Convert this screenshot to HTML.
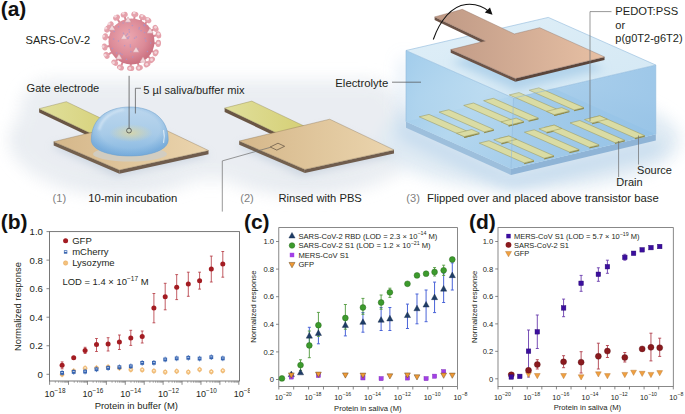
<!DOCTYPE html>
<html><head><meta charset="utf-8"><title>Figure</title>
<style>
html,body{margin:0;padding:0;background:#fff;width:685px;height:414px;overflow:hidden;}
svg{display:block;font-family:"Liberation Sans", sans-serif;}
</style></head><body>
<svg width="685" height="414" viewBox="0 0 685 414">
<defs>
<filter id="blur8" x="-50%" y="-50%" width="200%" height="200%"><feGaussianBlur stdDeviation="8"/></filter>
<filter id="blur4" x="-50%" y="-50%" width="200%" height="200%"><feGaussianBlur stdDeviation="4"/></filter>
<filter id="blur2" x="-50%" y="-50%" width="200%" height="200%"><feGaussianBlur stdDeviation="2"/></filter>
<filter id="blur1" x="-50%" y="-50%" width="200%" height="200%"><feGaussianBlur stdDeviation="1"/></filter>
<linearGradient id="padG" x1="0" y1="0" x2="1" y2="0">
 <stop offset="0" stop-color="#d5b78a"/><stop offset="1" stop-color="#ebd5ae"/></linearGradient>
<linearGradient id="stripG" x1="0" y1="0" x2="1" y2="0">
 <stop offset="0" stop-color="#e0df9c"/><stop offset="1" stop-color="#d5cf74"/></linearGradient>
<linearGradient id="cuG" x1="0" y1="0" x2="1" y2="0">
 <stop offset="0" stop-color="#bf9985"/><stop offset="1" stop-color="#e7c0a4"/></linearGradient>
<radialGradient id="virG" cx="0.42" cy="0.4" r="0.6">
 <stop offset="0" stop-color="#eca8b1"/><stop offset="0.65" stop-color="#dc8b98"/><stop offset="1" stop-color="#cb7181"/></radialGradient>
<linearGradient id="dropG" x1="0" y1="0" x2="0" y2="1">
 <stop offset="0" stop-color="#bcd7ee"/><stop offset="0.55" stop-color="#a8cbe8"/><stop offset="1" stop-color="#84b6e1"/></linearGradient>
<radialGradient id="dropY" cx="0.5" cy="0.5" r="0.5">
 <stop offset="0" stop-color="#d8d6a8" stop-opacity="0.9"/><stop offset="1" stop-color="#d8d6a8" stop-opacity="0"/></radialGradient>
<radialGradient id="dropE" cx="0.5" cy="0.45" r="0.55">
 <stop offset="0.7" stop-color="#7aaedc" stop-opacity="0"/><stop offset="1" stop-color="#6fa6d8" stop-opacity="0.7"/></radialGradient>
<linearGradient id="boxL" x1="0" y1="0" x2="1" y2="1">
 <stop offset="0" stop-color="#92c4e8"/><stop offset="0.55" stop-color="#b3d7ef"/><stop offset="1" stop-color="#a2cbea"/></linearGradient>
<linearGradient id="boxR" x1="0" y1="0" x2="1" y2="0">
 <stop offset="0" stop-color="#a2cbea"/><stop offset="1" stop-color="#8dbee5"/></linearGradient>
<linearGradient id="boxT" x1="0" y1="0" x2="1" y2="1">
 <stop offset="0" stop-color="#dcedf7"/><stop offset="1" stop-color="#d0e6f3"/></linearGradient>
<linearGradient id="bgfade" x1="0" y1="0" x2="0" y2="1">
 <stop offset="0" stop-color="#ffffff"/><stop offset="1" stop-color="#e6ebf0"/></linearGradient>
</defs>
<rect x="0" y="0" width="685" height="414" fill="#ffffff"/>
<g filter="url(#blur8)" opacity="0.9">
<ellipse cx="120" cy="140" rx="110" ry="55" fill="#e3e8ee"/>
<ellipse cx="305" cy="140" rx="115" ry="55" fill="#e3e8ee"/>
<rect x="20" y="80" width="380" height="100" rx="30" fill="#e8ecf1"/>
<ellipse cx="530" cy="140" rx="150" ry="50" fill="#dce8f2"/>
</g>
<g filter="url(#blur4)" opacity="0.55">
<polygon points="50.50,146.60 116.50,176.60 210.50,155.60 144.50,126.60" fill="#b4c3d3" stroke="none" stroke-width="0" />
</g>
<polygon points="39.10,108.70 93.90,134.80 93.90,138.60 39.10,112.50" fill="#6a5644" stroke="none" stroke-width="0" />
<polygon points="39.10,108.70 66.30,101.70 121.70,128.10 93.90,134.80" fill="url(#stripG)" stroke="#8d8450" stroke-width="0.4" />
<polygon points="53.70,141.70 119.40,170.00 119.40,173.70 53.70,145.40" fill="#73604e" stroke="none" stroke-width="0" />
<polygon points="119.40,170.00 208.50,150.50 208.50,154.20 119.40,173.70" fill="#6f5c4d" stroke="none" stroke-width="0" />
<polygon points="53.70,141.70 144.20,119.80 208.50,150.50 119.40,170.00" fill="url(#padG)" stroke="#8c7454" stroke-width="0.4" />
<g filter="url(#blur4)" opacity="0.55">
<polygon points="236.00,146.00 302.00,176.00 396.00,155.00 330.00,126.00" fill="#b4c3d3" stroke="none" stroke-width="0" />
</g>
<polygon points="224.60,108.10 279.40,134.20 279.40,138.00 224.60,111.90" fill="#6a5644" stroke="none" stroke-width="0" />
<polygon points="224.60,108.10 251.80,101.10 307.20,127.50 279.40,134.20" fill="url(#stripG)" stroke="#8d8450" stroke-width="0.4" />
<polygon points="239.20,141.10 304.90,169.40 304.90,173.10 239.20,144.80" fill="#73604e" stroke="none" stroke-width="0" />
<polygon points="304.90,169.40 394.00,149.90 394.00,153.60 304.90,173.10" fill="#6f5c4d" stroke="none" stroke-width="0" />
<polygon points="239.20,141.10 329.70,119.20 394.00,149.90 304.90,169.40" fill="url(#padG)" stroke="#8c7454" stroke-width="0.4" />
<polygon points="270.20,147.00 278.00,143.20 284.60,146.30 276.80,150.10" fill="none" stroke="#4a3c30" stroke-width="0.6" />
<polyline points="270.2,147.4 222.3,160.9 222.3,211.6" fill="none" stroke="#6d6d6d" stroke-width="0.7"/>
<ellipse cx="130" cy="154" rx="37" ry="7.5" fill="#cfcdc4" opacity="0.9"/>
<path d="M91.3,140 C91.3,118 108,107 129.7,107 C151.5,107 168.2,118 168.2,140 C168.2,150 150,156 129.7,156 C109,156 91.3,150 91.3,140 Z" fill="url(#dropG)"/>
<path d="M91.3,140 C91.3,118 108,107 129.7,107 C151.5,107 168.2,118 168.2,140 C168.2,150 150,156 129.7,156 C109,156 91.3,150 91.3,140 Z" fill="url(#dropE)"/>
<ellipse cx="131" cy="133" rx="22" ry="9" fill="url(#dropY)"/>
<path d="M91.3,140 C91.3,118 108,107 129.7,107 C151.5,107 168.2,118 168.2,140 C168.2,150 150,156 129.7,156 C109,156 91.3,150 91.3,140 Z" fill="none" stroke="#6d9ecb" stroke-width="0.5"/>
<path d="M99,130 C102,118 112,111 124,109.5" fill="none" stroke="#e6f1fa" stroke-width="2.2" opacity="0.6" filter="url(#blur1)"/>
<path d="M163.5,143 C164.5,139 164.5,134 163.5,130" fill="none" stroke="#e6f1fa" stroke-width="1.2" opacity="0.8"/>
<line x1="151.45" y1="42.94" x2="158.33" y2="43.43" stroke="#d88b97" stroke-width="2.0" />
<line x1="149.61" y1="49.99" x2="155.72" y2="52.85" stroke="#d88b97" stroke-width="2.0" />
<line x1="146.35" y1="54.90" x2="151.79" y2="59.81" stroke="#d88b97" stroke-width="2.0" />
<line x1="142.78" y1="58.02" x2="147.07" y2="64.31" stroke="#d88b97" stroke-width="2.0" />
<line x1="137.18" y1="60.68" x2="139.31" y2="67.83" stroke="#d88b97" stroke-width="2.0" />
<line x1="130.88" y1="61.49" x2="130.67" y2="68.27" stroke="#d88b97" stroke-width="2.0" />
<line x1="123.67" y1="59.90" x2="120.44" y2="67.50" stroke="#d88b97" stroke-width="2.0" />
<line x1="119.11" y1="57.20" x2="114.74" y2="62.73" stroke="#d88b97" stroke-width="2.0" />
<line x1="114.02" y1="51.23" x2="106.60" y2="55.36" stroke="#d88b97" stroke-width="2.0" />
<line x1="111.91" y1="45.51" x2="104.66" y2="46.99" stroke="#d88b97" stroke-width="2.0" />
<line x1="111.81" y1="37.99" x2="105.22" y2="36.82" stroke="#d88b97" stroke-width="2.0" />
<line x1="113.68" y1="32.42" x2="107.29" y2="29.15" stroke="#d88b97" stroke-width="2.0" />
<line x1="115.84" y1="29.06" x2="110.49" y2="24.81" stroke="#d88b97" stroke-width="2.0" />
<line x1="120.89" y1="24.54" x2="116.53" y2="17.56" stroke="#d88b97" stroke-width="2.0" />
<line x1="126.26" y1="22.20" x2="124.22" y2="14.71" stroke="#d88b97" stroke-width="2.0" />
<line x1="133.94" y1="21.65" x2="134.83" y2="14.36" stroke="#d88b97" stroke-width="2.0" />
<line x1="139.69" y1="23.25" x2="142.44" y2="17.12" stroke="#d88b97" stroke-width="2.0" />
<line x1="143.73" y1="25.67" x2="148.02" y2="20.13" stroke="#d88b97" stroke-width="2.0" />
<line x1="149.06" y1="31.92" x2="155.60" y2="28.35" stroke="#d88b97" stroke-width="2.0" />
<line x1="150.91" y1="36.67" x2="158.45" y2="34.79" stroke="#d88b97" stroke-width="2.0" />
<ellipse cx="158.33" cy="43.43" rx="3.6" ry="2.7" fill="#e5a1ab" transform="rotate(94.1 158.33 43.43)"/>
<circle cx="158.33" cy="42.89" r="1.4" fill="#f3d4d9"/>
<ellipse cx="155.72" cy="52.85" rx="3.6" ry="2.7" fill="#e5a1ab" transform="rotate(115.1 155.72 52.85)"/>
<circle cx="155.64" cy="52.59" r="1.4" fill="#f3d4d9"/>
<ellipse cx="151.79" cy="59.81" rx="3.6" ry="2.7" fill="#e5a1ab" transform="rotate(132.1 151.79 59.81)"/>
<circle cx="151.59" cy="59.74" r="1.4" fill="#f3d4d9"/>
<ellipse cx="147.07" cy="64.31" rx="3.6" ry="2.7" fill="#e5a1ab" transform="rotate(145.7 147.07 64.31)"/>
<circle cx="146.72" cy="64.37" r="1.4" fill="#f3d4d9"/>
<ellipse cx="139.31" cy="67.83" rx="3.6" ry="2.7" fill="#e5a1ab" transform="rotate(163.5 139.31 67.83)"/>
<circle cx="138.73" cy="68.00" r="1.4" fill="#f3d4d9"/>
<ellipse cx="130.67" cy="68.27" rx="3.6" ry="2.7" fill="#e5a1ab" transform="rotate(181.8 130.67 68.27)"/>
<circle cx="129.84" cy="68.47" r="1.4" fill="#f3d4d9"/>
<ellipse cx="120.44" cy="67.50" rx="3.6" ry="2.7" fill="#e5a1ab" transform="rotate(203.0 120.44 67.50)"/>
<circle cx="119.33" cy="67.64" r="1.4" fill="#f3d4d9"/>
<ellipse cx="114.74" cy="62.73" rx="3.6" ry="2.7" fill="#e5a1ab" transform="rotate(218.3 114.74 62.73)"/>
<circle cx="113.45" cy="62.76" r="1.4" fill="#f3d4d9"/>
<ellipse cx="106.60" cy="55.36" rx="3.6" ry="2.7" fill="#e5a1ab" transform="rotate(240.9 106.60 55.36)"/>
<circle cx="105.10" cy="55.15" r="1.4" fill="#f3d4d9"/>
<ellipse cx="104.66" cy="46.99" rx="3.6" ry="2.7" fill="#e5a1ab" transform="rotate(258.4 104.66 46.99)"/>
<circle cx="103.08" cy="46.55" r="1.4" fill="#f3d4d9"/>
<ellipse cx="105.22" cy="36.82" rx="3.6" ry="2.7" fill="#e5a1ab" transform="rotate(280.1 105.22 36.82)"/>
<circle cx="103.63" cy="36.08" r="1.4" fill="#f3d4d9"/>
<ellipse cx="107.29" cy="29.15" rx="3.6" ry="2.7" fill="#e5a1ab" transform="rotate(297.0 107.29 29.15)"/>
<circle cx="105.77" cy="28.19" r="1.4" fill="#f3d4d9"/>
<ellipse cx="110.49" cy="24.81" rx="3.6" ry="2.7" fill="#e5a1ab" transform="rotate(308.5 110.49 24.81)"/>
<circle cx="109.06" cy="23.71" r="1.4" fill="#f3d4d9"/>
<ellipse cx="116.53" cy="17.56" rx="3.6" ry="2.7" fill="#e5a1ab" transform="rotate(328.0 116.53 17.56)"/>
<circle cx="115.30" cy="16.29" r="1.4" fill="#f3d4d9"/>
<ellipse cx="124.22" cy="14.71" rx="3.6" ry="2.7" fill="#e5a1ab" transform="rotate(344.8 124.22 14.71)"/>
<circle cx="123.21" cy="13.34" r="1.4" fill="#f3d4d9"/>
<ellipse cx="134.83" cy="14.36" rx="3.6" ry="2.7" fill="#e5a1ab" transform="rotate(367.0 134.83 14.36)"/>
<circle cx="134.13" cy="12.97" r="1.4" fill="#f3d4d9"/>
<ellipse cx="142.44" cy="17.12" rx="3.6" ry="2.7" fill="#e5a1ab" transform="rotate(384.2 142.44 17.12)"/>
<circle cx="141.97" cy="15.79" r="1.4" fill="#f3d4d9"/>
<ellipse cx="148.02" cy="20.13" rx="3.6" ry="2.7" fill="#e5a1ab" transform="rotate(397.7 148.02 20.13)"/>
<circle cx="147.70" cy="18.89" r="1.4" fill="#f3d4d9"/>
<ellipse cx="155.60" cy="28.35" rx="3.6" ry="2.7" fill="#e5a1ab" transform="rotate(421.4 155.60 28.35)"/>
<circle cx="155.50" cy="27.37" r="1.4" fill="#f3d4d9"/>
<ellipse cx="158.45" cy="34.79" rx="3.6" ry="2.7" fill="#e5a1ab" transform="rotate(436.0 158.45 34.79)"/>
<circle cx="158.43" cy="34.00" r="1.4" fill="#f3d4d9"/>
<circle cx="131.5" cy="41.5" r="23" fill="url(#virG)"/>
<circle cx="132.67" cy="56.95" r="0.75" fill="#a294d2" opacity="0.75"/>
<circle cx="120.33" cy="53.40" r="0.75" fill="#a294d2" opacity="0.75"/>
<circle cx="127.72" cy="37.68" r="0.75" fill="#a294d2" opacity="0.75"/>
<circle cx="150.65" cy="43.09" r="0.75" fill="#a294d2" opacity="0.75"/>
<circle cx="130.90" cy="51.65" r="0.75" fill="#a294d2" opacity="0.75"/>
<circle cx="145.90" cy="41.11" r="0.75" fill="#a294d2" opacity="0.75"/>
<circle cx="138.99" cy="29.09" r="0.75" fill="#a294d2" opacity="0.75"/>
<circle cx="126.27" cy="35.25" r="0.75" fill="#a294d2" opacity="0.75"/>
<circle cx="118.55" cy="26.84" r="0.75" fill="#a294d2" opacity="0.75"/>
<circle cx="113.61" cy="38.88" r="0.75" fill="#a294d2" opacity="0.75"/>
<circle cx="128.98" cy="36.82" r="0.75" fill="#a294d2" opacity="0.75"/>
<circle cx="132.33" cy="25.38" r="0.75" fill="#a294d2" opacity="0.75"/>
<circle cx="130.33" cy="45.01" r="0.75" fill="#a294d2" opacity="0.75"/>
<circle cx="141.08" cy="30.70" r="0.75" fill="#a294d2" opacity="0.75"/>
<circle cx="127.67" cy="22.19" r="0.75" fill="#a294d2" opacity="0.75"/>
<circle cx="127.00" cy="21.86" r="0.75" fill="#a294d2" opacity="0.75"/>
<circle cx="116.65" cy="53.02" r="0.75" fill="#a294d2" opacity="0.75"/>
<circle cx="112.40" cy="48.43" r="0.75" fill="#a294d2" opacity="0.75"/>
<circle cx="136.25" cy="36.98" r="0.75" fill="#a294d2" opacity="0.75"/>
<circle cx="137.92" cy="48.88" r="0.75" fill="#a294d2" opacity="0.75"/>
<circle cx="145.04" cy="38.52" r="0.75" fill="#a294d2" opacity="0.75"/>
<circle cx="123.44" cy="33.27" r="0.75" fill="#a294d2" opacity="0.75"/>
<circle cx="118.47" cy="40.91" r="0.75" fill="#a294d2" opacity="0.75"/>
<circle cx="121.98" cy="54.44" r="0.75" fill="#a294d2" opacity="0.75"/>
<circle cx="114.26" cy="31.42" r="0.75" fill="#a294d2" opacity="0.75"/>
<circle cx="123.11" cy="23.08" r="0.75" fill="#a294d2" opacity="0.75"/>
<circle cx="144.46" cy="25.10" r="0.75" fill="#a294d2" opacity="0.75"/>
<circle cx="127.47" cy="34.04" r="0.75" fill="#a294d2" opacity="0.75"/>
<circle cx="144.71" cy="25.66" r="0.75" fill="#a294d2" opacity="0.75"/>
<circle cx="144.59" cy="32.57" r="0.75" fill="#a294d2" opacity="0.75"/>
<circle cx="129.33" cy="32.10" r="0.75" fill="#a294d2" opacity="0.75"/>
<circle cx="139.30" cy="27.64" r="0.75" fill="#a294d2" opacity="0.75"/>
<circle cx="130.35" cy="46.66" r="0.75" fill="#a294d2" opacity="0.75"/>
<circle cx="144.20" cy="24.91" r="0.75" fill="#a294d2" opacity="0.75"/>
<circle cx="147.46" cy="51.42" r="0.75" fill="#a294d2" opacity="0.75"/>
<circle cx="124.60" cy="45.85" r="0.75" fill="#a294d2" opacity="0.75"/>
<circle cx="126.49" cy="59.22" r="0.75" fill="#a294d2" opacity="0.75"/>
<circle cx="134.58" cy="38.33" r="0.75" fill="#a294d2" opacity="0.75"/>
<circle cx="128.15" cy="38.57" r="0.75" fill="#a294d2" opacity="0.75"/>
<circle cx="129.12" cy="29.66" r="0.75" fill="#a294d2" opacity="0.75"/>
<polygon points="124.00,33.80 127.20,39.20 120.80,39.20" fill="#f2d8dc" stroke="#c98892" stroke-width="0.4" />
<polygon points="150.00,27.80 153.20,33.20 146.80,33.20" fill="#f2d8dc" stroke="#c98892" stroke-width="0.4" />
<polygon points="136.00,46.80 139.20,52.20 132.80,52.20" fill="#f2d8dc" stroke="#c98892" stroke-width="0.4" />
<polygon points="119.00,53.80 122.20,59.20 115.80,59.20" fill="#f2d8dc" stroke="#c98892" stroke-width="0.4" />
<polygon points="143.00,56.80 146.20,62.20 139.80,62.20" fill="#f2d8dc" stroke="#c98892" stroke-width="0.4" />
<polygon points="112.00,24.80 115.20,30.20 108.80,30.20" fill="#f2d8dc" stroke="#c98892" stroke-width="0.4" />
<polygon points="128.00,16.80 131.20,22.20 124.80,22.20" fill="#f2d8dc" stroke="#c98892" stroke-width="0.4" />
<line x1="129.10" y1="75.80" x2="129.10" y2="128.20" stroke="#4d4d4d" stroke-width="0.75" />
<circle cx="129" cy="130.6" r="2.4" fill="none" stroke="#3a3a3a" stroke-width="0.7"/>
<polyline points="140.9,88.3 135.4,88.3 135.4,113.5" fill="none" stroke="#4d4d4d" stroke-width="0.7"/>
<g filter="url(#blur8)">
<polygon points="402.00,62.00 406.00,55.00 406.00,128.00 511.00,178.00 660.00,142.00 662.00,150.00 511.00,188.00 400.00,136.00" fill="#a9cbe8" stroke="none" stroke-width="0" opacity="0.75"/>
</g>
<polygon points="406.00,121.60 511.00,168.80 511.00,175.00 406.00,127.80" fill="#9dbfdc" stroke="none" stroke-width="0" />
<polygon points="511.00,168.80 655.80,134.30 655.80,140.50 511.00,175.00" fill="#8fb4d6" stroke="none" stroke-width="0" />
<polygon points="406.00,121.60 550.80,87.10 655.80,134.30 511.00,168.80" fill="#b9d8ee" stroke="none" stroke-width="0" />
<polygon points="406.00,50.50 513.50,98.10 511.00,168.80 406.00,121.60" fill="url(#boxL)" stroke="none" stroke-width="0" opacity="0.85"/>
<polygon points="513.50,98.10 655.80,65.00 655.80,134.30 511.00,168.80" fill="url(#boxR)" stroke="none" stroke-width="0" opacity="0.85"/>
<polygon points="406.00,50.50 548.30,17.40 655.80,65.00 513.50,98.10" fill="url(#boxT)" stroke="none" stroke-width="0" opacity="0.92"/>
<polygon points="464.20,136.60 474.00,134.20 474.00,135.50 464.20,137.90" fill="#8f8a4c" stroke="none" stroke-width="0" />
<polygon points="484.10,131.90 493.90,129.50 493.90,130.80 484.10,133.20" fill="#8f8a4c" stroke="none" stroke-width="0" />
<polygon points="464.20,136.60 479.39,132.88 479.39,134.18 464.20,137.90" fill="#8f8a4c" stroke="none" stroke-width="0" />
<polygon points="419.20,116.80 429.00,114.40 474.00,134.20 464.20,136.60" fill="#dadca4" stroke="#969556" stroke-width="0.5" />
<polygon points="439.10,112.10 448.90,109.70 493.90,129.50 484.10,131.90" fill="#dadca4" stroke="#969556" stroke-width="0.5" />
<polygon points="456.55,133.23 471.74,129.51 479.39,132.88 464.20,136.60" fill="#dadca4" stroke="#969556" stroke-width="0.5" />
<polygon points="508.70,125.20 518.50,122.80 518.50,124.10 508.70,126.50" fill="#8f8a4c" stroke="none" stroke-width="0" />
<polygon points="528.60,120.50 538.40,118.10 538.40,119.40 528.60,121.80" fill="#8f8a4c" stroke="none" stroke-width="0" />
<polygon points="508.70,125.20 523.89,121.48 523.89,122.78 508.70,126.50" fill="#8f8a4c" stroke="none" stroke-width="0" />
<polygon points="463.70,105.40 473.50,103.00 518.50,122.80 508.70,125.20" fill="#dadca4" stroke="#969556" stroke-width="0.5" />
<polygon points="483.60,100.70 493.40,98.30 538.40,118.10 528.60,120.50" fill="#dadca4" stroke="#969556" stroke-width="0.5" />
<polygon points="501.05,121.83 516.24,118.11 523.89,121.48 508.70,125.20" fill="#dadca4" stroke="#969556" stroke-width="0.5" />
<polygon points="554.20,114.70 564.00,112.30 564.00,113.60 554.20,116.00" fill="#8f8a4c" stroke="none" stroke-width="0" />
<polygon points="574.10,110.00 583.90,107.60 583.90,108.90 574.10,111.30" fill="#8f8a4c" stroke="none" stroke-width="0" />
<polygon points="554.20,114.70 569.39,110.98 569.39,112.28 554.20,116.00" fill="#8f8a4c" stroke="none" stroke-width="0" />
<polygon points="509.20,94.90 519.00,92.50 564.00,112.30 554.20,114.70" fill="#dadca4" stroke="#969556" stroke-width="0.5" />
<polygon points="529.10,90.20 538.90,87.80 583.90,107.60 574.10,110.00" fill="#dadca4" stroke="#969556" stroke-width="0.5" />
<polygon points="546.55,111.33 561.74,107.61 569.39,110.98 554.20,114.70" fill="#dadca4" stroke="#969556" stroke-width="0.5" />
<polygon points="524.20,162.90 534.00,160.50 534.00,161.80 524.20,164.20" fill="#8f8a4c" stroke="none" stroke-width="0" />
<polygon points="544.10,158.20 553.90,155.80 553.90,157.10 544.10,159.50" fill="#8f8a4c" stroke="none" stroke-width="0" />
<polygon points="501.36,143.09 516.55,139.37 516.55,140.67 501.36,144.39" fill="#8f8a4c" stroke="none" stroke-width="0" />
<polygon points="479.20,143.10 489.00,140.70 534.00,160.50 524.20,162.90" fill="#dadca4" stroke="#969556" stroke-width="0.5" />
<polygon points="499.10,138.40 508.90,136.00 553.90,155.80 544.10,158.20" fill="#dadca4" stroke="#969556" stroke-width="0.5" />
<polygon points="493.71,139.72 508.90,136.00 516.55,139.37 501.36,143.09" fill="#dadca4" stroke="#969556" stroke-width="0.5" />
<polygon points="569.40,152.00 579.20,149.60 579.20,150.90 569.40,153.30" fill="#8f8a4c" stroke="none" stroke-width="0" />
<polygon points="589.30,147.30 599.10,144.90 599.10,146.20 589.30,148.60" fill="#8f8a4c" stroke="none" stroke-width="0" />
<polygon points="546.56,132.19 561.75,128.47 561.75,129.77 546.56,133.49" fill="#8f8a4c" stroke="none" stroke-width="0" />
<polygon points="524.40,132.20 534.20,129.80 579.20,149.60 569.40,152.00" fill="#dadca4" stroke="#969556" stroke-width="0.5" />
<polygon points="544.30,127.50 554.10,125.10 599.10,144.90 589.30,147.30" fill="#dadca4" stroke="#969556" stroke-width="0.5" />
<polygon points="538.91,128.82 554.10,125.10 561.75,128.47 546.56,132.19" fill="#dadca4" stroke="#969556" stroke-width="0.5" />
<polygon points="615.00,142.70 624.80,140.30 624.80,141.60 615.00,144.00" fill="#8f8a4c" stroke="none" stroke-width="0" />
<polygon points="634.90,138.00 644.70,135.60 644.70,136.90 634.90,139.30" fill="#8f8a4c" stroke="none" stroke-width="0" />
<polygon points="592.16,122.89 607.35,119.17 607.35,120.47 592.16,124.19" fill="#8f8a4c" stroke="none" stroke-width="0" />
<polygon points="570.00,122.90 579.80,120.50 624.80,140.30 615.00,142.70" fill="#dadca4" stroke="#969556" stroke-width="0.5" />
<polygon points="589.90,118.20 599.70,115.80 644.70,135.60 634.90,138.00" fill="#dadca4" stroke="#969556" stroke-width="0.5" />
<polygon points="584.51,119.52 599.70,115.80 607.35,119.17 592.16,122.89" fill="#dadca4" stroke="#969556" stroke-width="0.5" />
<line x1="406.00" y1="50.50" x2="548.30" y2="17.40" stroke="#8fb8dc" stroke-width="0.6" />
<line x1="548.30" y1="17.40" x2="655.80" y2="65.00" stroke="#8fb8dc" stroke-width="0.6" />
<line x1="655.80" y1="65.00" x2="513.50" y2="98.10" stroke="#8fb8dc" stroke-width="0.6" />
<line x1="513.50" y1="98.10" x2="406.00" y2="50.50" stroke="#8fb8dc" stroke-width="0.6" />
<line x1="406.00" y1="50.50" x2="406.00" y2="121.60" stroke="#8fb8dc" stroke-width="0.6" />
<line x1="655.80" y1="65.00" x2="655.80" y2="134.30" stroke="#8fb8dc" stroke-width="0.6" />
<line x1="513.50" y1="98.10" x2="511.00" y2="168.80" stroke="#8fb8dc" stroke-width="0.6" />
<g filter="url(#blur4)">
<polygon points="450.70,61.60 539.70,39.70 604.50,68.90 515.30,90.50" fill="#a9cde8" stroke="none" stroke-width="0" opacity="0.8"/>
</g>
<polygon points="434.60,16.90 485.40,41.00 485.40,44.20 434.60,20.10" fill="#6b5347" stroke="none" stroke-width="0" />
<polygon points="450.70,49.60 515.30,78.50 515.30,81.70 450.70,52.80" fill="#6b5347" stroke="none" stroke-width="0" />
<polygon points="515.30,78.50 604.50,56.90 604.50,60.10 515.30,81.70" fill="#5a453b" stroke="none" stroke-width="0" />
<polygon points="434.60,16.90 462.30,9.30 514.30,33.95 539.70,27.70 604.50,56.90 515.30,78.50 450.70,49.60 485.40,41.00" fill="url(#cuG)" stroke="#8a6a5a" stroke-width="0.4" />
<path d="M433.3,39.5 C440,20 452,6 466,4.5 C476,3.5 484,7 489.5,12" fill="none" stroke="#111" stroke-width="1.1"/>
<polygon points="492.50,14.80 484.80,12.60 490.00,7.60" fill="#111" stroke="none" stroke-width="0" />
<polyline points="611.5,11.6 590.0,11.6 590.0,121" fill="none" stroke="#6d6d6d" stroke-width="0.7"/>
<line x1="392.00" y1="82.20" x2="421.00" y2="82.20" stroke="#4d4d4d" stroke-width="0.7" />
<line x1="618.60" y1="141.00" x2="618.60" y2="177.00" stroke="#6d6d6d" stroke-width="0.7" />
<line x1="638.50" y1="135.50" x2="638.50" y2="164.50" stroke="#6d6d6d" stroke-width="0.7" />
<text x="0.8" y="16.2" font-size="20.9" fill="#111" text-anchor="start" font-weight="bold" >(a)</text>
<text x="25.5" y="44.3" font-size="11.1" fill="#231f20" text-anchor="start" font-weight="normal" >SARS-CoV-2</text>
<text x="26.5" y="92.2" font-size="11.1" fill="#231f20" text-anchor="start" font-weight="normal" >Gate electrode</text>
<text x="143.3" y="94.4" font-size="11.1" fill="#231f20" text-anchor="start" font-weight="normal" >5 µl saliva/buffer mix</text>
<text x="335.3" y="86.5" font-size="11.35" fill="#231f20" text-anchor="start" font-weight="normal" >Electrolyte</text>
<text x="615.3" y="15.2" font-size="11.2" fill="#231f20" text-anchor="start" font-weight="normal" >PEDOT:PSS</text>
<text x="615.3" y="28.9" font-size="11.0" fill="#231f20" text-anchor="start" font-weight="normal" >or</text>
<text x="615.3" y="41.6" font-size="11.0" fill="#231f20" text-anchor="start" font-weight="normal" >p(g0T2-g6T2)</text>
<text x="637.1" y="173.7" font-size="11.0" fill="#231f20" text-anchor="start" font-weight="normal" >Source</text>
<text x="616.3" y="186.4" font-size="11.0" fill="#231f20" text-anchor="start" font-weight="normal" >Drain</text>
<text x="52.6" y="201.9" font-size="11.1" fill="#808080" text-anchor="start" font-weight="normal" >(1)</text>
<text x="88.2" y="201.9" font-size="11.3" fill="#231f20" text-anchor="start" font-weight="normal" >10-min incubation</text>
<text x="240.2" y="201.9" font-size="11.1" fill="#808080" text-anchor="start" font-weight="normal" >(2)</text>
<text x="278.5" y="201.9" font-size="11.2" fill="#231f20" text-anchor="start" font-weight="normal" >Rinsed with PBS</text>
<text x="406.3" y="201.6" font-size="11.1" fill="#808080" text-anchor="start" font-weight="normal" >(3)</text>
<text x="427.0" y="201.6" font-size="11.3" fill="#231f20" text-anchor="start" font-weight="normal" >Flipped over and placed above transistor base</text>
<text x="0.8" y="229.3" font-size="21" font-weight="bold" fill="#111">(b)</text>
<rect x="49.50" y="231.60" width="190.00" height="149.40" fill="none" stroke="#6b6b6b" stroke-width="0.9"/>
<line x1="46.50" y1="374.30" x2="49.50" y2="374.30" stroke="#6b6b6b" stroke-width="0.8" />
<text x="42.90" y="377.76" font-size="9.6" fill="#231f20" text-anchor="end" font-weight="normal" >0</text>
<line x1="46.50" y1="345.76" x2="49.50" y2="345.76" stroke="#6b6b6b" stroke-width="0.8" />
<text x="42.90" y="349.22" font-size="9.6" fill="#231f20" text-anchor="end" font-weight="normal" >0.2</text>
<line x1="46.50" y1="317.22" x2="49.50" y2="317.22" stroke="#6b6b6b" stroke-width="0.8" />
<text x="42.90" y="320.68" font-size="9.6" fill="#231f20" text-anchor="end" font-weight="normal" >0.4</text>
<line x1="46.50" y1="288.68" x2="49.50" y2="288.68" stroke="#6b6b6b" stroke-width="0.8" />
<text x="42.90" y="292.14" font-size="9.6" fill="#231f20" text-anchor="end" font-weight="normal" >0.6</text>
<line x1="46.50" y1="260.14" x2="49.50" y2="260.14" stroke="#6b6b6b" stroke-width="0.8" />
<text x="42.90" y="263.60" font-size="9.6" fill="#231f20" text-anchor="end" font-weight="normal" >0.8</text>
<line x1="46.50" y1="231.60" x2="49.50" y2="231.60" stroke="#6b6b6b" stroke-width="0.8" />
<text x="42.90" y="235.06" font-size="9.6" fill="#231f20" text-anchor="end" font-weight="normal" >1.0</text>
<line x1="49.60" y1="381.00" x2="49.60" y2="384.80" stroke="#6b6b6b" stroke-width="0.8" />
<line x1="55.30" y1="381.00" x2="55.30" y2="382.90" stroke="#6b6b6b" stroke-width="0.5" />
<line x1="58.63" y1="381.00" x2="58.63" y2="382.90" stroke="#6b6b6b" stroke-width="0.5" />
<line x1="60.99" y1="381.00" x2="60.99" y2="382.90" stroke="#6b6b6b" stroke-width="0.5" />
<line x1="62.82" y1="381.00" x2="62.82" y2="382.90" stroke="#6b6b6b" stroke-width="0.5" />
<line x1="64.32" y1="381.00" x2="64.32" y2="382.90" stroke="#6b6b6b" stroke-width="0.5" />
<line x1="65.59" y1="381.00" x2="65.59" y2="382.90" stroke="#6b6b6b" stroke-width="0.5" />
<line x1="66.69" y1="381.00" x2="66.69" y2="382.90" stroke="#6b6b6b" stroke-width="0.5" />
<line x1="67.65" y1="381.00" x2="67.65" y2="382.90" stroke="#6b6b6b" stroke-width="0.5" />
<text x="44.60" y="396.60" font-size="9.0" fill="#231f20">10<tspan font-size="6.4" dy="-3.78">−18</tspan></text>
<line x1="68.52" y1="381.00" x2="68.52" y2="384.80" stroke="#6b6b6b" stroke-width="0.8" />
<line x1="74.22" y1="381.00" x2="74.22" y2="382.90" stroke="#6b6b6b" stroke-width="0.5" />
<line x1="77.55" y1="381.00" x2="77.55" y2="382.90" stroke="#6b6b6b" stroke-width="0.5" />
<line x1="79.91" y1="381.00" x2="79.91" y2="382.90" stroke="#6b6b6b" stroke-width="0.5" />
<line x1="81.74" y1="381.00" x2="81.74" y2="382.90" stroke="#6b6b6b" stroke-width="0.5" />
<line x1="83.24" y1="381.00" x2="83.24" y2="382.90" stroke="#6b6b6b" stroke-width="0.5" />
<line x1="84.51" y1="381.00" x2="84.51" y2="382.90" stroke="#6b6b6b" stroke-width="0.5" />
<line x1="85.61" y1="381.00" x2="85.61" y2="382.90" stroke="#6b6b6b" stroke-width="0.5" />
<line x1="86.57" y1="381.00" x2="86.57" y2="382.90" stroke="#6b6b6b" stroke-width="0.5" />
<line x1="87.44" y1="381.00" x2="87.44" y2="384.80" stroke="#6b6b6b" stroke-width="0.8" />
<line x1="93.14" y1="381.00" x2="93.14" y2="382.90" stroke="#6b6b6b" stroke-width="0.5" />
<line x1="96.47" y1="381.00" x2="96.47" y2="382.90" stroke="#6b6b6b" stroke-width="0.5" />
<line x1="98.83" y1="381.00" x2="98.83" y2="382.90" stroke="#6b6b6b" stroke-width="0.5" />
<line x1="100.66" y1="381.00" x2="100.66" y2="382.90" stroke="#6b6b6b" stroke-width="0.5" />
<line x1="102.16" y1="381.00" x2="102.16" y2="382.90" stroke="#6b6b6b" stroke-width="0.5" />
<line x1="103.43" y1="381.00" x2="103.43" y2="382.90" stroke="#6b6b6b" stroke-width="0.5" />
<line x1="104.53" y1="381.00" x2="104.53" y2="382.90" stroke="#6b6b6b" stroke-width="0.5" />
<line x1="105.49" y1="381.00" x2="105.49" y2="382.90" stroke="#6b6b6b" stroke-width="0.5" />
<text x="82.44" y="396.60" font-size="9.0" fill="#231f20">10<tspan font-size="6.4" dy="-3.78">−16</tspan></text>
<line x1="106.36" y1="381.00" x2="106.36" y2="384.80" stroke="#6b6b6b" stroke-width="0.8" />
<line x1="112.06" y1="381.00" x2="112.06" y2="382.90" stroke="#6b6b6b" stroke-width="0.5" />
<line x1="115.39" y1="381.00" x2="115.39" y2="382.90" stroke="#6b6b6b" stroke-width="0.5" />
<line x1="117.75" y1="381.00" x2="117.75" y2="382.90" stroke="#6b6b6b" stroke-width="0.5" />
<line x1="119.58" y1="381.00" x2="119.58" y2="382.90" stroke="#6b6b6b" stroke-width="0.5" />
<line x1="121.08" y1="381.00" x2="121.08" y2="382.90" stroke="#6b6b6b" stroke-width="0.5" />
<line x1="122.35" y1="381.00" x2="122.35" y2="382.90" stroke="#6b6b6b" stroke-width="0.5" />
<line x1="123.45" y1="381.00" x2="123.45" y2="382.90" stroke="#6b6b6b" stroke-width="0.5" />
<line x1="124.41" y1="381.00" x2="124.41" y2="382.90" stroke="#6b6b6b" stroke-width="0.5" />
<line x1="125.28" y1="381.00" x2="125.28" y2="384.80" stroke="#6b6b6b" stroke-width="0.8" />
<line x1="130.98" y1="381.00" x2="130.98" y2="382.90" stroke="#6b6b6b" stroke-width="0.5" />
<line x1="134.31" y1="381.00" x2="134.31" y2="382.90" stroke="#6b6b6b" stroke-width="0.5" />
<line x1="136.67" y1="381.00" x2="136.67" y2="382.90" stroke="#6b6b6b" stroke-width="0.5" />
<line x1="138.50" y1="381.00" x2="138.50" y2="382.90" stroke="#6b6b6b" stroke-width="0.5" />
<line x1="140.00" y1="381.00" x2="140.00" y2="382.90" stroke="#6b6b6b" stroke-width="0.5" />
<line x1="141.27" y1="381.00" x2="141.27" y2="382.90" stroke="#6b6b6b" stroke-width="0.5" />
<line x1="142.37" y1="381.00" x2="142.37" y2="382.90" stroke="#6b6b6b" stroke-width="0.5" />
<line x1="143.33" y1="381.00" x2="143.33" y2="382.90" stroke="#6b6b6b" stroke-width="0.5" />
<text x="120.28" y="396.60" font-size="9.0" fill="#231f20">10<tspan font-size="6.4" dy="-3.78">−14</tspan></text>
<line x1="144.20" y1="381.00" x2="144.20" y2="384.80" stroke="#6b6b6b" stroke-width="0.8" />
<line x1="149.90" y1="381.00" x2="149.90" y2="382.90" stroke="#6b6b6b" stroke-width="0.5" />
<line x1="153.23" y1="381.00" x2="153.23" y2="382.90" stroke="#6b6b6b" stroke-width="0.5" />
<line x1="155.59" y1="381.00" x2="155.59" y2="382.90" stroke="#6b6b6b" stroke-width="0.5" />
<line x1="157.42" y1="381.00" x2="157.42" y2="382.90" stroke="#6b6b6b" stroke-width="0.5" />
<line x1="158.92" y1="381.00" x2="158.92" y2="382.90" stroke="#6b6b6b" stroke-width="0.5" />
<line x1="160.19" y1="381.00" x2="160.19" y2="382.90" stroke="#6b6b6b" stroke-width="0.5" />
<line x1="161.29" y1="381.00" x2="161.29" y2="382.90" stroke="#6b6b6b" stroke-width="0.5" />
<line x1="162.25" y1="381.00" x2="162.25" y2="382.90" stroke="#6b6b6b" stroke-width="0.5" />
<line x1="163.12" y1="381.00" x2="163.12" y2="384.80" stroke="#6b6b6b" stroke-width="0.8" />
<line x1="168.82" y1="381.00" x2="168.82" y2="382.90" stroke="#6b6b6b" stroke-width="0.5" />
<line x1="172.15" y1="381.00" x2="172.15" y2="382.90" stroke="#6b6b6b" stroke-width="0.5" />
<line x1="174.51" y1="381.00" x2="174.51" y2="382.90" stroke="#6b6b6b" stroke-width="0.5" />
<line x1="176.34" y1="381.00" x2="176.34" y2="382.90" stroke="#6b6b6b" stroke-width="0.5" />
<line x1="177.84" y1="381.00" x2="177.84" y2="382.90" stroke="#6b6b6b" stroke-width="0.5" />
<line x1="179.11" y1="381.00" x2="179.11" y2="382.90" stroke="#6b6b6b" stroke-width="0.5" />
<line x1="180.21" y1="381.00" x2="180.21" y2="382.90" stroke="#6b6b6b" stroke-width="0.5" />
<line x1="181.17" y1="381.00" x2="181.17" y2="382.90" stroke="#6b6b6b" stroke-width="0.5" />
<text x="158.12" y="396.60" font-size="9.0" fill="#231f20">10<tspan font-size="6.4" dy="-3.78">−12</tspan></text>
<line x1="182.04" y1="381.00" x2="182.04" y2="384.80" stroke="#6b6b6b" stroke-width="0.8" />
<line x1="187.74" y1="381.00" x2="187.74" y2="382.90" stroke="#6b6b6b" stroke-width="0.5" />
<line x1="191.07" y1="381.00" x2="191.07" y2="382.90" stroke="#6b6b6b" stroke-width="0.5" />
<line x1="193.43" y1="381.00" x2="193.43" y2="382.90" stroke="#6b6b6b" stroke-width="0.5" />
<line x1="195.26" y1="381.00" x2="195.26" y2="382.90" stroke="#6b6b6b" stroke-width="0.5" />
<line x1="196.76" y1="381.00" x2="196.76" y2="382.90" stroke="#6b6b6b" stroke-width="0.5" />
<line x1="198.03" y1="381.00" x2="198.03" y2="382.90" stroke="#6b6b6b" stroke-width="0.5" />
<line x1="199.13" y1="381.00" x2="199.13" y2="382.90" stroke="#6b6b6b" stroke-width="0.5" />
<line x1="200.09" y1="381.00" x2="200.09" y2="382.90" stroke="#6b6b6b" stroke-width="0.5" />
<line x1="200.96" y1="381.00" x2="200.96" y2="384.80" stroke="#6b6b6b" stroke-width="0.8" />
<line x1="206.66" y1="381.00" x2="206.66" y2="382.90" stroke="#6b6b6b" stroke-width="0.5" />
<line x1="209.99" y1="381.00" x2="209.99" y2="382.90" stroke="#6b6b6b" stroke-width="0.5" />
<line x1="212.35" y1="381.00" x2="212.35" y2="382.90" stroke="#6b6b6b" stroke-width="0.5" />
<line x1="214.18" y1="381.00" x2="214.18" y2="382.90" stroke="#6b6b6b" stroke-width="0.5" />
<line x1="215.68" y1="381.00" x2="215.68" y2="382.90" stroke="#6b6b6b" stroke-width="0.5" />
<line x1="216.95" y1="381.00" x2="216.95" y2="382.90" stroke="#6b6b6b" stroke-width="0.5" />
<line x1="218.05" y1="381.00" x2="218.05" y2="382.90" stroke="#6b6b6b" stroke-width="0.5" />
<line x1="219.01" y1="381.00" x2="219.01" y2="382.90" stroke="#6b6b6b" stroke-width="0.5" />
<text x="195.96" y="396.60" font-size="9.0" fill="#231f20">10<tspan font-size="6.4" dy="-3.78">−10</tspan></text>
<line x1="219.88" y1="381.00" x2="219.88" y2="384.80" stroke="#6b6b6b" stroke-width="0.8" />
<line x1="225.58" y1="381.00" x2="225.58" y2="382.90" stroke="#6b6b6b" stroke-width="0.5" />
<line x1="228.91" y1="381.00" x2="228.91" y2="382.90" stroke="#6b6b6b" stroke-width="0.5" />
<line x1="231.27" y1="381.00" x2="231.27" y2="382.90" stroke="#6b6b6b" stroke-width="0.5" />
<line x1="233.10" y1="381.00" x2="233.10" y2="382.90" stroke="#6b6b6b" stroke-width="0.5" />
<line x1="234.60" y1="381.00" x2="234.60" y2="382.90" stroke="#6b6b6b" stroke-width="0.5" />
<line x1="235.87" y1="381.00" x2="235.87" y2="382.90" stroke="#6b6b6b" stroke-width="0.5" />
<line x1="236.97" y1="381.00" x2="236.97" y2="382.90" stroke="#6b6b6b" stroke-width="0.5" />
<line x1="237.93" y1="381.00" x2="237.93" y2="382.90" stroke="#6b6b6b" stroke-width="0.5" />
<line x1="238.80" y1="381.00" x2="238.80" y2="384.80" stroke="#6b6b6b" stroke-width="0.8" />
<text x="233.80" y="396.60" font-size="9.0" fill="#231f20">10<tspan font-size="6.4" dy="-3.78">−8</tspan></text>
<text x="21.40" y="306.50" font-size="9.45" fill="#231f20" text-anchor="middle" transform="rotate(-90 21.40 306.50)">Normalized response</text>
<text x="136.30" y="409.40" font-size="9.45" fill="#231f20" text-anchor="middle" font-weight="normal" >Protein in buffer (M)</text>
<line x1="62.10" y1="371.70" x2="62.10" y2="377.30" stroke="#f0b868" stroke-width="0.7" />
<circle cx="62.10" cy="374.50" r="2.0" fill="#f3c27e" stroke="#e9a552" stroke-width="0.5"/>
<circle cx="62.10" cy="374.20" r="0.8" fill="#fff3dc" stroke="none" stroke-width="0"/>
<line x1="73.70" y1="368.20" x2="73.70" y2="373.80" stroke="#f0b868" stroke-width="0.7" />
<circle cx="73.70" cy="371.00" r="2.0" fill="#f3c27e" stroke="#e9a552" stroke-width="0.5"/>
<circle cx="73.70" cy="370.70" r="0.8" fill="#fff3dc" stroke="none" stroke-width="0"/>
<line x1="85.10" y1="365.40" x2="85.10" y2="371.00" stroke="#f0b868" stroke-width="0.7" />
<circle cx="85.10" cy="368.20" r="2.0" fill="#f3c27e" stroke="#e9a552" stroke-width="0.5"/>
<circle cx="85.10" cy="367.90" r="0.8" fill="#fff3dc" stroke="none" stroke-width="0"/>
<line x1="96.50" y1="365.20" x2="96.50" y2="370.80" stroke="#f0b868" stroke-width="0.7" />
<circle cx="96.50" cy="368.00" r="2.0" fill="#f3c27e" stroke="#e9a552" stroke-width="0.5"/>
<circle cx="96.50" cy="367.70" r="0.8" fill="#fff3dc" stroke="none" stroke-width="0"/>
<line x1="108.10" y1="364.20" x2="108.10" y2="369.80" stroke="#f0b868" stroke-width="0.7" />
<circle cx="108.10" cy="367.00" r="2.0" fill="#f3c27e" stroke="#e9a552" stroke-width="0.5"/>
<circle cx="108.10" cy="366.70" r="0.8" fill="#fff3dc" stroke="none" stroke-width="0"/>
<line x1="119.40" y1="365.20" x2="119.40" y2="370.80" stroke="#f0b868" stroke-width="0.7" />
<circle cx="119.40" cy="368.00" r="2.0" fill="#f3c27e" stroke="#e9a552" stroke-width="0.5"/>
<circle cx="119.40" cy="367.70" r="0.8" fill="#fff3dc" stroke="none" stroke-width="0"/>
<line x1="130.80" y1="366.90" x2="130.80" y2="372.50" stroke="#f0b868" stroke-width="0.7" />
<circle cx="130.80" cy="369.70" r="2.0" fill="#f3c27e" stroke="#e9a552" stroke-width="0.5"/>
<circle cx="130.80" cy="369.40" r="0.8" fill="#fff3dc" stroke="none" stroke-width="0"/>
<line x1="142.20" y1="367.10" x2="142.20" y2="372.70" stroke="#f0b868" stroke-width="0.7" />
<circle cx="142.20" cy="369.90" r="2.0" fill="#f3c27e" stroke="#e9a552" stroke-width="0.5"/>
<circle cx="142.20" cy="369.60" r="0.8" fill="#fff3dc" stroke="none" stroke-width="0"/>
<line x1="153.90" y1="368.20" x2="153.90" y2="373.80" stroke="#f0b868" stroke-width="0.7" />
<circle cx="153.90" cy="371.00" r="2.0" fill="#f3c27e" stroke="#e9a552" stroke-width="0.5"/>
<circle cx="153.90" cy="370.70" r="0.8" fill="#fff3dc" stroke="none" stroke-width="0"/>
<line x1="165.20" y1="369.30" x2="165.20" y2="374.90" stroke="#f0b868" stroke-width="0.7" />
<circle cx="165.20" cy="372.10" r="2.0" fill="#f3c27e" stroke="#e9a552" stroke-width="0.5"/>
<circle cx="165.20" cy="371.80" r="0.8" fill="#fff3dc" stroke="none" stroke-width="0"/>
<line x1="176.70" y1="368.50" x2="176.70" y2="374.10" stroke="#f0b868" stroke-width="0.7" />
<circle cx="176.70" cy="371.30" r="2.0" fill="#f3c27e" stroke="#e9a552" stroke-width="0.5"/>
<circle cx="176.70" cy="371.00" r="0.8" fill="#fff3dc" stroke="none" stroke-width="0"/>
<line x1="188.30" y1="369.30" x2="188.30" y2="374.90" stroke="#f0b868" stroke-width="0.7" />
<circle cx="188.30" cy="372.10" r="2.0" fill="#f3c27e" stroke="#e9a552" stroke-width="0.5"/>
<circle cx="188.30" cy="371.80" r="0.8" fill="#fff3dc" stroke="none" stroke-width="0"/>
<line x1="199.60" y1="366.80" x2="199.60" y2="372.40" stroke="#f0b868" stroke-width="0.7" />
<circle cx="199.60" cy="369.60" r="2.0" fill="#f3c27e" stroke="#e9a552" stroke-width="0.5"/>
<circle cx="199.60" cy="369.30" r="0.8" fill="#fff3dc" stroke="none" stroke-width="0"/>
<line x1="211.30" y1="369.00" x2="211.30" y2="374.60" stroke="#f0b868" stroke-width="0.7" />
<circle cx="211.30" cy="371.80" r="2.0" fill="#f3c27e" stroke="#e9a552" stroke-width="0.5"/>
<circle cx="211.30" cy="371.50" r="0.8" fill="#fff3dc" stroke="none" stroke-width="0"/>
<line x1="222.80" y1="367.90" x2="222.80" y2="373.50" stroke="#f0b868" stroke-width="0.7" />
<circle cx="222.80" cy="370.70" r="2.0" fill="#f3c27e" stroke="#e9a552" stroke-width="0.5"/>
<circle cx="222.80" cy="370.40" r="0.8" fill="#fff3dc" stroke="none" stroke-width="0"/>
<line x1="62.10" y1="370.10" x2="62.10" y2="375.70" stroke="#3563ad" stroke-width="0.7" />
<rect x="60.20" y="371.00" width="3.8" height="3.8" fill="#3563b0" stroke="none" stroke-width="0"/>
<rect x="61.10" y="372.00" width="2.0" height="1.0" fill="#a9c0e6"/>
<line x1="73.70" y1="369.10" x2="73.70" y2="374.70" stroke="#3563ad" stroke-width="0.7" />
<rect x="71.80" y="370.00" width="3.8" height="3.8" fill="#3563b0" stroke="none" stroke-width="0"/>
<rect x="72.70" y="371.00" width="2.0" height="1.0" fill="#a9c0e6"/>
<line x1="85.10" y1="368.80" x2="85.10" y2="374.40" stroke="#3563ad" stroke-width="0.7" />
<rect x="83.20" y="369.70" width="3.8" height="3.8" fill="#3563b0" stroke="none" stroke-width="0"/>
<rect x="84.10" y="370.70" width="2.0" height="1.0" fill="#a9c0e6"/>
<line x1="96.50" y1="366.50" x2="96.50" y2="372.10" stroke="#3563ad" stroke-width="0.7" />
<rect x="94.60" y="367.40" width="3.8" height="3.8" fill="#3563b0" stroke="none" stroke-width="0"/>
<rect x="95.50" y="368.40" width="2.0" height="1.0" fill="#a9c0e6"/>
<line x1="108.10" y1="365.20" x2="108.10" y2="370.80" stroke="#3563ad" stroke-width="0.7" />
<rect x="106.20" y="366.10" width="3.8" height="3.8" fill="#3563b0" stroke="none" stroke-width="0"/>
<rect x="107.10" y="367.10" width="2.0" height="1.0" fill="#a9c0e6"/>
<line x1="119.40" y1="364.40" x2="119.40" y2="370.00" stroke="#3563ad" stroke-width="0.7" />
<rect x="117.50" y="365.30" width="3.8" height="3.8" fill="#3563b0" stroke="none" stroke-width="0"/>
<rect x="118.40" y="366.30" width="2.0" height="1.0" fill="#a9c0e6"/>
<line x1="130.80" y1="363.50" x2="130.80" y2="369.10" stroke="#3563ad" stroke-width="0.7" />
<rect x="128.90" y="364.40" width="3.8" height="3.8" fill="#3563b0" stroke="none" stroke-width="0"/>
<rect x="129.80" y="365.40" width="2.0" height="1.0" fill="#a9c0e6"/>
<line x1="142.20" y1="360.10" x2="142.20" y2="365.70" stroke="#3563ad" stroke-width="0.7" />
<rect x="140.30" y="361.00" width="3.8" height="3.8" fill="#3563b0" stroke="none" stroke-width="0"/>
<rect x="141.20" y="362.00" width="2.0" height="1.0" fill="#a9c0e6"/>
<line x1="153.90" y1="360.00" x2="153.90" y2="365.60" stroke="#3563ad" stroke-width="0.7" />
<rect x="152.00" y="360.90" width="3.8" height="3.8" fill="#3563b0" stroke="none" stroke-width="0"/>
<rect x="152.90" y="361.90" width="2.0" height="1.0" fill="#a9c0e6"/>
<line x1="165.20" y1="356.70" x2="165.20" y2="362.30" stroke="#3563ad" stroke-width="0.7" />
<rect x="163.30" y="357.60" width="3.8" height="3.8" fill="#3563b0" stroke="none" stroke-width="0"/>
<rect x="164.20" y="358.60" width="2.0" height="1.0" fill="#a9c0e6"/>
<line x1="176.70" y1="355.60" x2="176.70" y2="361.20" stroke="#3563ad" stroke-width="0.7" />
<rect x="174.80" y="356.50" width="3.8" height="3.8" fill="#3563b0" stroke="none" stroke-width="0"/>
<rect x="175.70" y="357.50" width="2.0" height="1.0" fill="#a9c0e6"/>
<line x1="188.30" y1="355.00" x2="188.30" y2="360.60" stroke="#3563ad" stroke-width="0.7" />
<rect x="186.40" y="355.90" width="3.8" height="3.8" fill="#3563b0" stroke="none" stroke-width="0"/>
<rect x="187.30" y="356.90" width="2.0" height="1.0" fill="#a9c0e6"/>
<line x1="199.60" y1="355.80" x2="199.60" y2="361.40" stroke="#3563ad" stroke-width="0.7" />
<rect x="197.70" y="356.70" width="3.8" height="3.8" fill="#3563b0" stroke="none" stroke-width="0"/>
<rect x="198.60" y="357.70" width="2.0" height="1.0" fill="#a9c0e6"/>
<line x1="211.30" y1="354.40" x2="211.30" y2="360.00" stroke="#3563ad" stroke-width="0.7" />
<rect x="209.40" y="355.30" width="3.8" height="3.8" fill="#3563b0" stroke="none" stroke-width="0"/>
<rect x="210.30" y="356.30" width="2.0" height="1.0" fill="#a9c0e6"/>
<line x1="222.80" y1="355.60" x2="222.80" y2="361.20" stroke="#3563ad" stroke-width="0.7" />
<rect x="220.90" y="356.50" width="3.8" height="3.8" fill="#3563b0" stroke="none" stroke-width="0"/>
<rect x="221.80" y="357.50" width="2.0" height="1.0" fill="#a9c0e6"/>
<line x1="62.10" y1="361.90" x2="62.10" y2="368.80" stroke="#b2343c" stroke-width="0.8" />
<line x1="60.70" y1="361.90" x2="63.50" y2="361.90" stroke="#b2343c" stroke-width="0.8" />
<line x1="60.70" y1="368.80" x2="63.50" y2="368.80" stroke="#b2343c" stroke-width="0.8" />
<circle cx="62.10" cy="365.30" r="2.5" fill="#a31c22" stroke="none" stroke-width="0"/>
<circle cx="73.70" cy="357.70" r="2.5" fill="#a31c22" stroke="none" stroke-width="0"/>
<line x1="85.10" y1="347.30" x2="85.10" y2="353.50" stroke="#b2343c" stroke-width="0.8" />
<line x1="83.70" y1="347.30" x2="86.50" y2="347.30" stroke="#b2343c" stroke-width="0.8" />
<line x1="83.70" y1="353.50" x2="86.50" y2="353.50" stroke="#b2343c" stroke-width="0.8" />
<circle cx="85.10" cy="350.40" r="2.5" fill="#a31c22" stroke="none" stroke-width="0"/>
<line x1="96.50" y1="338.50" x2="96.50" y2="351.50" stroke="#b2343c" stroke-width="0.8" />
<line x1="95.10" y1="338.50" x2="97.90" y2="338.50" stroke="#b2343c" stroke-width="0.8" />
<line x1="95.10" y1="351.50" x2="97.90" y2="351.50" stroke="#b2343c" stroke-width="0.8" />
<circle cx="96.50" cy="344.60" r="2.5" fill="#a31c22" stroke="none" stroke-width="0"/>
<line x1="108.10" y1="337.70" x2="108.10" y2="351.00" stroke="#b2343c" stroke-width="0.8" />
<line x1="106.70" y1="337.70" x2="109.50" y2="337.70" stroke="#b2343c" stroke-width="0.8" />
<line x1="106.70" y1="351.00" x2="109.50" y2="351.00" stroke="#b2343c" stroke-width="0.8" />
<circle cx="108.10" cy="344.00" r="2.5" fill="#a31c22" stroke="none" stroke-width="0"/>
<line x1="119.40" y1="335.00" x2="119.40" y2="349.50" stroke="#b2343c" stroke-width="0.8" />
<line x1="118.00" y1="335.00" x2="120.80" y2="335.00" stroke="#b2343c" stroke-width="0.8" />
<line x1="118.00" y1="349.50" x2="120.80" y2="349.50" stroke="#b2343c" stroke-width="0.8" />
<circle cx="119.40" cy="342.10" r="2.5" fill="#a31c22" stroke="none" stroke-width="0"/>
<line x1="130.80" y1="330.30" x2="130.80" y2="345.40" stroke="#b2343c" stroke-width="0.8" />
<line x1="129.40" y1="330.30" x2="132.20" y2="330.30" stroke="#b2343c" stroke-width="0.8" />
<line x1="129.40" y1="345.40" x2="132.20" y2="345.40" stroke="#b2343c" stroke-width="0.8" />
<circle cx="130.80" cy="338.00" r="2.5" fill="#a31c22" stroke="none" stroke-width="0"/>
<line x1="142.20" y1="331.00" x2="142.20" y2="343.00" stroke="#b2343c" stroke-width="0.8" />
<line x1="140.80" y1="331.00" x2="143.60" y2="331.00" stroke="#b2343c" stroke-width="0.8" />
<line x1="140.80" y1="343.00" x2="143.60" y2="343.00" stroke="#b2343c" stroke-width="0.8" />
<circle cx="142.20" cy="336.60" r="2.5" fill="#a31c22" stroke="none" stroke-width="0"/>
<line x1="153.90" y1="293.50" x2="153.90" y2="322.80" stroke="#b2343c" stroke-width="0.8" />
<line x1="152.50" y1="293.50" x2="155.30" y2="293.50" stroke="#b2343c" stroke-width="0.8" />
<line x1="152.50" y1="322.80" x2="155.30" y2="322.80" stroke="#b2343c" stroke-width="0.8" />
<circle cx="153.90" cy="307.90" r="2.5" fill="#a31c22" stroke="none" stroke-width="0"/>
<line x1="165.20" y1="283.30" x2="165.20" y2="309.80" stroke="#b2343c" stroke-width="0.8" />
<line x1="163.80" y1="283.30" x2="166.60" y2="283.30" stroke="#b2343c" stroke-width="0.8" />
<line x1="163.80" y1="309.80" x2="166.60" y2="309.80" stroke="#b2343c" stroke-width="0.8" />
<circle cx="165.20" cy="296.70" r="2.5" fill="#a31c22" stroke="none" stroke-width="0"/>
<line x1="176.70" y1="274.60" x2="176.70" y2="299.60" stroke="#b2343c" stroke-width="0.8" />
<line x1="175.30" y1="274.60" x2="178.10" y2="274.60" stroke="#b2343c" stroke-width="0.8" />
<line x1="175.30" y1="299.60" x2="178.10" y2="299.60" stroke="#b2343c" stroke-width="0.8" />
<circle cx="176.70" cy="287.20" r="2.5" fill="#a31c22" stroke="none" stroke-width="0"/>
<line x1="188.30" y1="272.20" x2="188.30" y2="296.30" stroke="#b2343c" stroke-width="0.8" />
<line x1="186.90" y1="272.20" x2="189.70" y2="272.20" stroke="#b2343c" stroke-width="0.8" />
<line x1="186.90" y1="296.30" x2="189.70" y2="296.30" stroke="#b2343c" stroke-width="0.8" />
<circle cx="188.30" cy="283.90" r="2.5" fill="#a31c22" stroke="none" stroke-width="0"/>
<line x1="199.60" y1="272.20" x2="199.60" y2="289.10" stroke="#b2343c" stroke-width="0.8" />
<line x1="198.20" y1="272.20" x2="201.00" y2="272.20" stroke="#b2343c" stroke-width="0.8" />
<line x1="198.20" y1="289.10" x2="201.00" y2="289.10" stroke="#b2343c" stroke-width="0.8" />
<circle cx="199.60" cy="280.70" r="2.5" fill="#a31c22" stroke="none" stroke-width="0"/>
<line x1="211.30" y1="256.10" x2="211.30" y2="282.00" stroke="#b2343c" stroke-width="0.8" />
<line x1="209.90" y1="256.10" x2="212.70" y2="256.10" stroke="#b2343c" stroke-width="0.8" />
<line x1="209.90" y1="282.00" x2="212.70" y2="282.00" stroke="#b2343c" stroke-width="0.8" />
<circle cx="211.30" cy="268.90" r="2.5" fill="#a31c22" stroke="none" stroke-width="0"/>
<line x1="222.80" y1="251.50" x2="222.80" y2="277.20" stroke="#b2343c" stroke-width="0.8" />
<line x1="221.40" y1="251.50" x2="224.20" y2="251.50" stroke="#b2343c" stroke-width="0.8" />
<line x1="221.40" y1="277.20" x2="224.20" y2="277.20" stroke="#b2343c" stroke-width="0.8" />
<circle cx="222.80" cy="264.10" r="2.5" fill="#a31c22" stroke="none" stroke-width="0"/>
<circle cx="65.60" cy="240.70" r="2.5" fill="#a31c22" stroke="none" stroke-width="0"/>
<rect x="63.90" y="250.30" width="3.4" height="3.4" fill="#3a66b0" stroke="none" stroke-width="0"/>
<rect x="64.6" y="251.0" width="2.0" height="1.0" fill="#e8eef8"/>
<circle cx="65.60" cy="263.00" r="2.2" fill="#f3c27e" stroke="#e9a552" stroke-width="0.5"/>
<text x="72.20" y="244.10" font-size="9.5" fill="#231f20" text-anchor="start" font-weight="normal" >GFP</text>
<text x="72.20" y="255.40" font-size="9.5" fill="#231f20" text-anchor="start" font-weight="normal" >mCherry</text>
<text x="72.20" y="266.40" font-size="9.5" fill="#231f20" text-anchor="start" font-weight="normal" >Lysozyme</text>
<text x="62.4" y="284.6" font-size="9.45" fill="#231f20">LOD = 1.4 × 10<tspan font-size="6.6" dy="-3.8">−17</tspan><tspan dy="3.8"> M</tspan></text>
<rect x="249.8" y="383" width="14" height="18" fill="#ffffff"/>
<text x="243.9" y="229.1" font-size="21" font-weight="bold" fill="#111">(c)</text>
<rect x="278.80" y="227.60" width="178.70" height="158.90" fill="none" stroke="#6b6b6b" stroke-width="0.8"/>
<line x1="276.00" y1="379.50" x2="278.80" y2="379.50" stroke="#6b6b6b" stroke-width="0.8" />
<text x="274.00" y="382.24" font-size="7.6" fill="#231f20" text-anchor="end" font-weight="normal" >0</text>
<line x1="276.00" y1="351.90" x2="278.80" y2="351.90" stroke="#6b6b6b" stroke-width="0.8" />
<text x="274.00" y="354.64" font-size="7.6" fill="#231f20" text-anchor="end" font-weight="normal" >0.2</text>
<line x1="276.00" y1="324.30" x2="278.80" y2="324.30" stroke="#6b6b6b" stroke-width="0.8" />
<text x="274.00" y="327.04" font-size="7.6" fill="#231f20" text-anchor="end" font-weight="normal" >0.4</text>
<line x1="276.00" y1="296.70" x2="278.80" y2="296.70" stroke="#6b6b6b" stroke-width="0.8" />
<text x="274.00" y="299.44" font-size="7.6" fill="#231f20" text-anchor="end" font-weight="normal" >0.6</text>
<line x1="276.00" y1="269.10" x2="278.80" y2="269.10" stroke="#6b6b6b" stroke-width="0.8" />
<text x="274.00" y="271.84" font-size="7.6" fill="#231f20" text-anchor="end" font-weight="normal" >0.8</text>
<line x1="276.00" y1="241.50" x2="278.80" y2="241.50" stroke="#6b6b6b" stroke-width="0.8" />
<text x="274.00" y="244.24" font-size="7.6" fill="#231f20" text-anchor="end" font-weight="normal" >1.0</text>
<line x1="278.80" y1="386.50" x2="278.80" y2="389.50" stroke="#6b6b6b" stroke-width="0.8" />
<text x="274.74" y="399.50" font-size="7.3" fill="#231f20">10<tspan font-size="5.2" dy="-3.07">−20</tspan></text>
<line x1="293.69" y1="386.50" x2="293.69" y2="389.50" stroke="#6b6b6b" stroke-width="0.8" />
<line x1="308.58" y1="386.50" x2="308.58" y2="389.50" stroke="#6b6b6b" stroke-width="0.8" />
<text x="304.52" y="399.50" font-size="7.3" fill="#231f20">10<tspan font-size="5.2" dy="-3.07">−18</tspan></text>
<line x1="323.48" y1="386.50" x2="323.48" y2="389.50" stroke="#6b6b6b" stroke-width="0.8" />
<line x1="338.37" y1="386.50" x2="338.37" y2="389.50" stroke="#6b6b6b" stroke-width="0.8" />
<text x="334.31" y="399.50" font-size="7.3" fill="#231f20">10<tspan font-size="5.2" dy="-3.07">−16</tspan></text>
<line x1="353.26" y1="386.50" x2="353.26" y2="389.50" stroke="#6b6b6b" stroke-width="0.8" />
<line x1="368.15" y1="386.50" x2="368.15" y2="389.50" stroke="#6b6b6b" stroke-width="0.8" />
<text x="364.09" y="399.50" font-size="7.3" fill="#231f20">10<tspan font-size="5.2" dy="-3.07">−14</tspan></text>
<line x1="383.04" y1="386.50" x2="383.04" y2="389.50" stroke="#6b6b6b" stroke-width="0.8" />
<line x1="397.93" y1="386.50" x2="397.93" y2="389.50" stroke="#6b6b6b" stroke-width="0.8" />
<text x="393.87" y="399.50" font-size="7.3" fill="#231f20">10<tspan font-size="5.2" dy="-3.07">−12</tspan></text>
<line x1="412.82" y1="386.50" x2="412.82" y2="389.50" stroke="#6b6b6b" stroke-width="0.8" />
<line x1="427.72" y1="386.50" x2="427.72" y2="389.50" stroke="#6b6b6b" stroke-width="0.8" />
<text x="423.66" y="399.50" font-size="7.3" fill="#231f20">10<tspan font-size="5.2" dy="-3.07">−10</tspan></text>
<line x1="442.61" y1="386.50" x2="442.61" y2="389.50" stroke="#6b6b6b" stroke-width="0.8" />
<line x1="457.50" y1="386.50" x2="457.50" y2="389.50" stroke="#6b6b6b" stroke-width="0.8" />
<text x="453.44" y="399.50" font-size="7.3" fill="#231f20">10<tspan font-size="5.2" dy="-3.07">−8</tspan></text>
<text x="256.40" y="306.70" font-size="7.65" fill="#231f20" text-anchor="middle" transform="rotate(-90 256.40 306.70)">Normalized response</text>
<text x="367.80" y="410.70" font-size="7.65" fill="#231f20" text-anchor="middle" font-weight="normal" >Protein in saliva (M)</text>
<line x1="309.33" y1="327.30" x2="309.33" y2="346.50" stroke="#4a64d8" stroke-width="1.0" />
<line x1="307.83" y1="327.30" x2="310.83" y2="327.30" stroke="#4a64d8" stroke-width="1.0" />
<line x1="307.83" y1="346.50" x2="310.83" y2="346.50" stroke="#4a64d8" stroke-width="1.0" />
<line x1="318.41" y1="323.90" x2="318.41" y2="343.80" stroke="#4a64d8" stroke-width="1.0" />
<line x1="316.91" y1="323.90" x2="319.91" y2="323.90" stroke="#4a64d8" stroke-width="1.0" />
<line x1="316.91" y1="343.80" x2="319.91" y2="343.80" stroke="#4a64d8" stroke-width="1.0" />
<line x1="345.37" y1="317.20" x2="345.37" y2="335.90" stroke="#4a64d8" stroke-width="1.0" />
<line x1="343.87" y1="317.20" x2="346.87" y2="317.20" stroke="#4a64d8" stroke-width="1.0" />
<line x1="343.87" y1="335.90" x2="346.87" y2="335.90" stroke="#4a64d8" stroke-width="1.0" />
<line x1="362.94" y1="312.60" x2="362.94" y2="332.20" stroke="#4a64d8" stroke-width="1.0" />
<line x1="361.44" y1="312.60" x2="364.44" y2="312.60" stroke="#4a64d8" stroke-width="1.0" />
<line x1="361.44" y1="332.20" x2="364.44" y2="332.20" stroke="#4a64d8" stroke-width="1.0" />
<line x1="381.11" y1="307.50" x2="381.11" y2="330.50" stroke="#4a64d8" stroke-width="1.0" />
<line x1="379.61" y1="307.50" x2="382.61" y2="307.50" stroke="#4a64d8" stroke-width="1.0" />
<line x1="379.61" y1="330.50" x2="382.61" y2="330.50" stroke="#4a64d8" stroke-width="1.0" />
<line x1="389.89" y1="307.50" x2="389.89" y2="330.50" stroke="#4a64d8" stroke-width="1.0" />
<line x1="388.39" y1="307.50" x2="391.39" y2="307.50" stroke="#4a64d8" stroke-width="1.0" />
<line x1="388.39" y1="330.50" x2="391.39" y2="330.50" stroke="#4a64d8" stroke-width="1.0" />
<line x1="407.46" y1="304.10" x2="407.46" y2="328.50" stroke="#4a64d8" stroke-width="1.0" />
<line x1="405.96" y1="304.10" x2="408.96" y2="304.10" stroke="#4a64d8" stroke-width="1.0" />
<line x1="405.96" y1="328.50" x2="408.96" y2="328.50" stroke="#4a64d8" stroke-width="1.0" />
<line x1="416.99" y1="294.00" x2="416.99" y2="323.80" stroke="#4a64d8" stroke-width="1.0" />
<line x1="415.49" y1="294.00" x2="418.49" y2="294.00" stroke="#4a64d8" stroke-width="1.0" />
<line x1="415.49" y1="323.80" x2="418.49" y2="323.80" stroke="#4a64d8" stroke-width="1.0" />
<line x1="426.08" y1="290.00" x2="426.08" y2="321.70" stroke="#4a64d8" stroke-width="1.0" />
<line x1="424.58" y1="290.00" x2="427.58" y2="290.00" stroke="#4a64d8" stroke-width="1.0" />
<line x1="424.58" y1="321.70" x2="427.58" y2="321.70" stroke="#4a64d8" stroke-width="1.0" />
<line x1="434.57" y1="282.10" x2="434.57" y2="312.60" stroke="#4a64d8" stroke-width="1.0" />
<line x1="433.07" y1="282.10" x2="436.07" y2="282.10" stroke="#4a64d8" stroke-width="1.0" />
<line x1="433.07" y1="312.60" x2="436.07" y2="312.60" stroke="#4a64d8" stroke-width="1.0" />
<line x1="443.65" y1="273.00" x2="443.65" y2="302.50" stroke="#4a64d8" stroke-width="1.0" />
<line x1="442.15" y1="273.00" x2="445.15" y2="273.00" stroke="#4a64d8" stroke-width="1.0" />
<line x1="442.15" y1="302.50" x2="445.15" y2="302.50" stroke="#4a64d8" stroke-width="1.0" />
<line x1="452.29" y1="262.90" x2="452.29" y2="290.00" stroke="#4a64d8" stroke-width="1.0" />
<line x1="450.79" y1="262.90" x2="453.79" y2="262.90" stroke="#4a64d8" stroke-width="1.0" />
<line x1="450.79" y1="290.00" x2="453.79" y2="290.00" stroke="#4a64d8" stroke-width="1.0" />
<line x1="300.54" y1="359.80" x2="300.54" y2="370.40" stroke="#4f9a3c" stroke-width="0.9" />
<line x1="299.04" y1="359.80" x2="302.04" y2="359.80" stroke="#4f9a3c" stroke-width="0.9" />
<line x1="299.04" y1="370.40" x2="302.04" y2="370.40" stroke="#4f9a3c" stroke-width="0.9" />
<line x1="309.33" y1="331.00" x2="309.33" y2="357.70" stroke="#4f9a3c" stroke-width="0.9" />
<line x1="307.83" y1="331.00" x2="310.83" y2="331.00" stroke="#4f9a3c" stroke-width="0.9" />
<line x1="307.83" y1="357.70" x2="310.83" y2="357.70" stroke="#4f9a3c" stroke-width="0.9" />
<line x1="318.41" y1="312.40" x2="318.41" y2="336.40" stroke="#4f9a3c" stroke-width="0.9" />
<line x1="316.91" y1="312.40" x2="319.91" y2="312.40" stroke="#4f9a3c" stroke-width="0.9" />
<line x1="316.91" y1="336.40" x2="319.91" y2="336.40" stroke="#4f9a3c" stroke-width="0.9" />
<line x1="345.37" y1="304.50" x2="345.37" y2="329.20" stroke="#4f9a3c" stroke-width="0.9" />
<line x1="343.87" y1="304.50" x2="346.87" y2="304.50" stroke="#4f9a3c" stroke-width="0.9" />
<line x1="343.87" y1="329.20" x2="346.87" y2="329.20" stroke="#4f9a3c" stroke-width="0.9" />
<line x1="362.94" y1="298.40" x2="362.94" y2="314.30" stroke="#4f9a3c" stroke-width="0.9" />
<line x1="361.44" y1="298.40" x2="364.44" y2="298.40" stroke="#4f9a3c" stroke-width="0.9" />
<line x1="361.44" y1="314.30" x2="364.44" y2="314.30" stroke="#4f9a3c" stroke-width="0.9" />
<line x1="381.11" y1="295.00" x2="381.11" y2="309.20" stroke="#4f9a3c" stroke-width="0.9" />
<line x1="379.61" y1="295.00" x2="382.61" y2="295.00" stroke="#4f9a3c" stroke-width="0.9" />
<line x1="379.61" y1="309.20" x2="382.61" y2="309.20" stroke="#4f9a3c" stroke-width="0.9" />
<line x1="389.89" y1="288.20" x2="389.89" y2="297.40" stroke="#4f9a3c" stroke-width="0.9" />
<line x1="388.39" y1="288.20" x2="391.39" y2="288.20" stroke="#4f9a3c" stroke-width="0.9" />
<line x1="388.39" y1="297.40" x2="391.39" y2="297.40" stroke="#4f9a3c" stroke-width="0.9" />
<line x1="434.57" y1="267.60" x2="434.57" y2="276.00" stroke="#4f9a3c" stroke-width="0.9" />
<line x1="433.07" y1="267.60" x2="436.07" y2="267.60" stroke="#4f9a3c" stroke-width="0.9" />
<line x1="433.07" y1="276.00" x2="436.07" y2="276.00" stroke="#4f9a3c" stroke-width="0.9" />
<line x1="443.65" y1="265.20" x2="443.65" y2="275.40" stroke="#4f9a3c" stroke-width="0.9" />
<line x1="442.15" y1="265.20" x2="445.15" y2="265.20" stroke="#4f9a3c" stroke-width="0.9" />
<line x1="442.15" y1="275.40" x2="445.15" y2="275.40" stroke="#4f9a3c" stroke-width="0.9" />
<circle cx="281.93" cy="378.40" r="2.9" fill="#3c9b2c" stroke="#2a6a1e" stroke-width="0.5"/>
<circle cx="300.54" cy="365.10" r="2.9" fill="#3c9b2c" stroke="#2a6a1e" stroke-width="0.5"/>
<circle cx="309.33" cy="345.40" r="2.9" fill="#3c9b2c" stroke="#2a6a1e" stroke-width="0.5"/>
<circle cx="318.41" cy="325.20" r="2.9" fill="#3c9b2c" stroke="#2a6a1e" stroke-width="0.5"/>
<circle cx="345.37" cy="318.00" r="2.9" fill="#3c9b2c" stroke="#2a6a1e" stroke-width="0.5"/>
<circle cx="362.94" cy="307.50" r="2.9" fill="#3c9b2c" stroke="#2a6a1e" stroke-width="0.5"/>
<circle cx="381.11" cy="302.50" r="2.9" fill="#3c9b2c" stroke="#2a6a1e" stroke-width="0.5"/>
<circle cx="389.89" cy="292.30" r="2.9" fill="#3c9b2c" stroke="#2a6a1e" stroke-width="0.5"/>
<circle cx="407.46" cy="283.80" r="2.9" fill="#3c9b2c" stroke="#2a6a1e" stroke-width="0.5"/>
<circle cx="416.99" cy="275.40" r="2.9" fill="#3c9b2c" stroke="#2a6a1e" stroke-width="0.5"/>
<circle cx="426.08" cy="273.70" r="2.9" fill="#3c9b2c" stroke="#2a6a1e" stroke-width="0.5"/>
<circle cx="434.57" cy="272.00" r="2.9" fill="#3c9b2c" stroke="#2a6a1e" stroke-width="0.5"/>
<circle cx="443.65" cy="270.30" r="2.9" fill="#3c9b2c" stroke="#2a6a1e" stroke-width="0.5"/>
<circle cx="452.29" cy="259.50" r="2.9" fill="#3c9b2c" stroke="#2a6a1e" stroke-width="0.5"/>
<polygon points="291.31,371.05 294.41,376.63 288.21,376.63" fill="#1f3d66" stroke="#15294a" stroke-width="0.4"/>
<polygon points="300.54,369.25 303.64,374.83 297.44,374.83" fill="#1f3d66" stroke="#15294a" stroke-width="0.4"/>
<polygon points="309.33,332.55 312.43,338.13 306.23,338.13" fill="#1f3d66" stroke="#15294a" stroke-width="0.4"/>
<polygon points="318.41,329.85 321.51,335.43 315.31,335.43" fill="#1f3d66" stroke="#15294a" stroke-width="0.4"/>
<polygon points="345.37,321.85 348.47,327.43 342.27,327.43" fill="#1f3d66" stroke="#15294a" stroke-width="0.4"/>
<polygon points="362.94,318.75 366.04,324.33 359.84,324.33" fill="#1f3d66" stroke="#15294a" stroke-width="0.4"/>
<polygon points="381.11,316.65 384.21,322.23 378.01,322.23" fill="#1f3d66" stroke="#15294a" stroke-width="0.4"/>
<polygon points="389.89,315.35 392.99,320.93 386.79,320.93" fill="#1f3d66" stroke="#15294a" stroke-width="0.4"/>
<polygon points="407.46,311.95 410.56,317.53 404.36,317.53" fill="#1f3d66" stroke="#15294a" stroke-width="0.4"/>
<polygon points="416.99,305.15 420.09,310.73 413.89,310.73" fill="#1f3d66" stroke="#15294a" stroke-width="0.4"/>
<polygon points="426.08,301.45 429.18,307.03 422.98,307.03" fill="#1f3d66" stroke="#15294a" stroke-width="0.4"/>
<polygon points="434.57,294.05 437.67,299.63 431.47,299.63" fill="#1f3d66" stroke="#15294a" stroke-width="0.4"/>
<polygon points="443.65,285.55 446.75,291.13 440.55,291.13" fill="#1f3d66" stroke="#15294a" stroke-width="0.4"/>
<polygon points="452.29,272.05 455.39,277.63 449.19,277.63" fill="#1f3d66" stroke="#15294a" stroke-width="0.4"/>
<rect x="289.21" y="374.90" width="4.2" height="4.2" fill="#a23fe6" stroke="#7a2db0" stroke-width="0.4"/>
<rect x="316.31" y="373.40" width="4.2" height="4.2" fill="#a23fe6" stroke="#7a2db0" stroke-width="0.4"/>
<rect x="360.84" y="375.80" width="4.2" height="4.2" fill="#a23fe6" stroke="#7a2db0" stroke-width="0.4"/>
<rect x="379.01" y="376.50" width="4.2" height="4.2" fill="#a23fe6" stroke="#7a2db0" stroke-width="0.4"/>
<rect x="405.36" y="375.90" width="4.2" height="4.2" fill="#a23fe6" stroke="#7a2db0" stroke-width="0.4"/>
<rect x="423.98" y="376.50" width="4.2" height="4.2" fill="#a23fe6" stroke="#7a2db0" stroke-width="0.4"/>
<rect x="432.47" y="374.10" width="4.2" height="4.2" fill="#a23fe6" stroke="#7a2db0" stroke-width="0.4"/>
<rect x="441.55" y="369.50" width="4.2" height="4.2" fill="#a23fe6" stroke="#7a2db0" stroke-width="0.4"/>
<polygon points="291.31,378.13 294.21,372.91 288.41,372.91" fill="#f09a35" stroke="#6a4a20" stroke-width="0.5"/>
<polygon points="318.41,377.33 321.31,372.11 315.51,372.11" fill="#f09a35" stroke="#6a4a20" stroke-width="0.5"/>
<polygon points="345.37,378.13 348.27,372.91 342.47,372.91" fill="#f09a35" stroke="#6a4a20" stroke-width="0.5"/>
<polygon points="362.94,378.33 365.84,373.11 360.04,373.11" fill="#f09a35" stroke="#6a4a20" stroke-width="0.5"/>
<polygon points="389.89,379.03 392.79,373.81 386.99,373.81" fill="#f09a35" stroke="#6a4a20" stroke-width="0.5"/>
<polygon points="407.46,378.13 410.36,372.91 404.56,372.91" fill="#f09a35" stroke="#6a4a20" stroke-width="0.5"/>
<polygon points="416.99,380.03 419.89,374.81 414.09,374.81" fill="#f09a35" stroke="#6a4a20" stroke-width="0.5"/>
<polygon points="443.65,378.33 446.55,373.11 440.75,373.11" fill="#f09a35" stroke="#6a4a20" stroke-width="0.5"/>
<polygon points="452.29,378.33 455.19,373.11 449.39,373.11" fill="#f09a35" stroke="#6a4a20" stroke-width="0.5"/>
<polygon points="292.00,232.45 295.10,238.03 288.90,238.03" fill="#1f3d66" stroke="#15294a" stroke-width="0.4"/>
<circle cx="292.00" cy="245.50" r="2.8" fill="#3c9b2c" stroke="#2a6a1e" stroke-width="0.5"/>
<rect x="289.80" y="252.80" width="4.4" height="4.4" fill="#a23fe6" stroke="none" stroke-width="0"/>
<polygon points="292.00,267.84 295.00,262.44 289.00,262.44" fill="#f09a35" stroke="#6a4a20" stroke-width="0.5"/>
<text x="298.4" y="238.5" font-size="7.6" fill="#231f20">SARS-CoV-2 RBD (LOD = 2.3 × 10<tspan font-size="5.3" dy="-3.1">−14</tspan><tspan dy="3.1"> M)</tspan></text>
<text x="298.4" y="248.2" font-size="7.6" fill="#231f20">SARS-CoV-2 S1 (LOD = 1.2 × 10<tspan font-size="5.3" dy="-3.1">−21</tspan><tspan dy="3.1"> M)</tspan></text>
<text x="298.40" y="257.80" font-size="7.6" fill="#231f20" text-anchor="start" font-weight="normal" >MERS-CoV S1</text>
<text x="298.40" y="267.20" font-size="7.6" fill="#231f20" text-anchor="start" font-weight="normal" >GFP</text>
<text x="468.9" y="229.1" font-size="21" font-weight="bold" fill="#111">(d)</text>
<rect x="498.00" y="227.60" width="175.30" height="158.80" fill="none" stroke="#6b6b6b" stroke-width="0.8"/>
<line x1="495.20" y1="378.80" x2="498.00" y2="378.80" stroke="#6b6b6b" stroke-width="0.8" />
<text x="493.20" y="381.54" font-size="7.6" fill="#231f20" text-anchor="end" font-weight="normal" >0</text>
<line x1="495.20" y1="351.34" x2="498.00" y2="351.34" stroke="#6b6b6b" stroke-width="0.8" />
<text x="493.20" y="354.08" font-size="7.6" fill="#231f20" text-anchor="end" font-weight="normal" >0.2</text>
<line x1="495.20" y1="323.88" x2="498.00" y2="323.88" stroke="#6b6b6b" stroke-width="0.8" />
<text x="493.20" y="326.62" font-size="7.6" fill="#231f20" text-anchor="end" font-weight="normal" >0.4</text>
<line x1="495.20" y1="296.42" x2="498.00" y2="296.42" stroke="#6b6b6b" stroke-width="0.8" />
<text x="493.20" y="299.16" font-size="7.6" fill="#231f20" text-anchor="end" font-weight="normal" >0.6</text>
<line x1="495.20" y1="268.96" x2="498.00" y2="268.96" stroke="#6b6b6b" stroke-width="0.8" />
<text x="493.20" y="271.70" font-size="7.6" fill="#231f20" text-anchor="end" font-weight="normal" >0.8</text>
<line x1="495.20" y1="241.50" x2="498.00" y2="241.50" stroke="#6b6b6b" stroke-width="0.8" />
<text x="493.20" y="244.24" font-size="7.6" fill="#231f20" text-anchor="end" font-weight="normal" >1.0</text>
<line x1="498.00" y1="386.40" x2="498.00" y2="389.40" stroke="#6b6b6b" stroke-width="0.8" />
<text x="493.94" y="399.50" font-size="7.3" fill="#231f20">10<tspan font-size="5.2" dy="-3.07">−20</tspan></text>
<line x1="512.61" y1="386.40" x2="512.61" y2="389.40" stroke="#6b6b6b" stroke-width="0.8" />
<line x1="527.22" y1="386.40" x2="527.22" y2="389.40" stroke="#6b6b6b" stroke-width="0.8" />
<text x="523.16" y="399.50" font-size="7.3" fill="#231f20">10<tspan font-size="5.2" dy="-3.07">−18</tspan></text>
<line x1="541.83" y1="386.40" x2="541.83" y2="389.40" stroke="#6b6b6b" stroke-width="0.8" />
<line x1="556.43" y1="386.40" x2="556.43" y2="389.40" stroke="#6b6b6b" stroke-width="0.8" />
<text x="552.37" y="399.50" font-size="7.3" fill="#231f20">10<tspan font-size="5.2" dy="-3.07">−16</tspan></text>
<line x1="571.04" y1="386.40" x2="571.04" y2="389.40" stroke="#6b6b6b" stroke-width="0.8" />
<line x1="585.65" y1="386.40" x2="585.65" y2="389.40" stroke="#6b6b6b" stroke-width="0.8" />
<text x="581.59" y="399.50" font-size="7.3" fill="#231f20">10<tspan font-size="5.2" dy="-3.07">−14</tspan></text>
<line x1="600.26" y1="386.40" x2="600.26" y2="389.40" stroke="#6b6b6b" stroke-width="0.8" />
<line x1="614.87" y1="386.40" x2="614.87" y2="389.40" stroke="#6b6b6b" stroke-width="0.8" />
<text x="610.81" y="399.50" font-size="7.3" fill="#231f20">10<tspan font-size="5.2" dy="-3.07">−12</tspan></text>
<line x1="629.47" y1="386.40" x2="629.47" y2="389.40" stroke="#6b6b6b" stroke-width="0.8" />
<line x1="644.08" y1="386.40" x2="644.08" y2="389.40" stroke="#6b6b6b" stroke-width="0.8" />
<text x="640.02" y="399.50" font-size="7.3" fill="#231f20">10<tspan font-size="5.2" dy="-3.07">−10</tspan></text>
<line x1="658.69" y1="386.40" x2="658.69" y2="389.40" stroke="#6b6b6b" stroke-width="0.8" />
<line x1="673.30" y1="386.40" x2="673.30" y2="389.40" stroke="#6b6b6b" stroke-width="0.8" />
<text x="669.24" y="399.50" font-size="7.3" fill="#231f20">10<tspan font-size="5.2" dy="-3.07">−8</tspan></text>
<text x="477.00" y="306.80" font-size="7.65" fill="#231f20" text-anchor="middle" transform="rotate(-90 477.00 306.80)">Normalized response</text>
<text x="587.40" y="410.00" font-size="7.65" fill="#231f20" text-anchor="middle" font-weight="normal" >Protein in saliva (M)</text>
<line x1="537.30" y1="359.70" x2="537.30" y2="369.00" stroke="#b0404c" stroke-width="0.9" />
<line x1="535.80" y1="359.70" x2="538.80" y2="359.70" stroke="#b0404c" stroke-width="0.9" />
<line x1="535.80" y1="369.00" x2="538.80" y2="369.00" stroke="#b0404c" stroke-width="0.9" />
<line x1="563.59" y1="355.70" x2="563.59" y2="367.70" stroke="#b0404c" stroke-width="0.9" />
<line x1="562.09" y1="355.70" x2="565.09" y2="355.70" stroke="#b0404c" stroke-width="0.9" />
<line x1="562.09" y1="367.70" x2="565.09" y2="367.70" stroke="#b0404c" stroke-width="0.9" />
<line x1="581.12" y1="351.70" x2="581.12" y2="373.00" stroke="#b0404c" stroke-width="0.9" />
<line x1="579.62" y1="351.70" x2="582.62" y2="351.70" stroke="#b0404c" stroke-width="0.9" />
<line x1="579.62" y1="373.00" x2="582.62" y2="373.00" stroke="#b0404c" stroke-width="0.9" />
<line x1="598.36" y1="343.20" x2="598.36" y2="369.00" stroke="#b0404c" stroke-width="0.9" />
<line x1="596.86" y1="343.20" x2="599.86" y2="343.20" stroke="#b0404c" stroke-width="0.9" />
<line x1="596.86" y1="369.00" x2="599.86" y2="369.00" stroke="#b0404c" stroke-width="0.9" />
<line x1="607.42" y1="345.50" x2="607.42" y2="357.50" stroke="#b0404c" stroke-width="0.9" />
<line x1="605.92" y1="345.50" x2="608.92" y2="345.50" stroke="#b0404c" stroke-width="0.9" />
<line x1="605.92" y1="357.50" x2="608.92" y2="357.50" stroke="#b0404c" stroke-width="0.9" />
<line x1="624.80" y1="352.50" x2="624.80" y2="362.00" stroke="#b0404c" stroke-width="0.9" />
<line x1="623.30" y1="352.50" x2="626.30" y2="352.50" stroke="#b0404c" stroke-width="0.9" />
<line x1="623.30" y1="362.00" x2="626.30" y2="362.00" stroke="#b0404c" stroke-width="0.9" />
<line x1="650.95" y1="333.20" x2="650.95" y2="360.90" stroke="#b0404c" stroke-width="0.9" />
<line x1="649.45" y1="333.20" x2="652.45" y2="333.20" stroke="#b0404c" stroke-width="0.9" />
<line x1="649.45" y1="360.90" x2="652.45" y2="360.90" stroke="#b0404c" stroke-width="0.9" />
<line x1="659.71" y1="338.20" x2="659.71" y2="356.40" stroke="#b0404c" stroke-width="0.9" />
<line x1="658.21" y1="338.20" x2="661.21" y2="338.20" stroke="#b0404c" stroke-width="0.9" />
<line x1="658.21" y1="356.40" x2="661.21" y2="356.40" stroke="#b0404c" stroke-width="0.9" />
<line x1="528.53" y1="330.00" x2="528.53" y2="377.00" stroke="#6a3cae" stroke-width="0.9" />
<line x1="527.03" y1="330.00" x2="530.03" y2="330.00" stroke="#6a3cae" stroke-width="0.9" />
<line x1="527.03" y1="377.00" x2="530.03" y2="377.00" stroke="#6a3cae" stroke-width="0.9" />
<line x1="537.30" y1="315.00" x2="537.30" y2="348.50" stroke="#6a3cae" stroke-width="0.9" />
<line x1="535.80" y1="315.00" x2="538.80" y2="315.00" stroke="#6a3cae" stroke-width="0.9" />
<line x1="535.80" y1="348.50" x2="538.80" y2="348.50" stroke="#6a3cae" stroke-width="0.9" />
<line x1="563.59" y1="299.10" x2="563.59" y2="316.70" stroke="#6a3cae" stroke-width="0.9" />
<line x1="562.09" y1="299.10" x2="565.09" y2="299.10" stroke="#6a3cae" stroke-width="0.9" />
<line x1="562.09" y1="316.70" x2="565.09" y2="316.70" stroke="#6a3cae" stroke-width="0.9" />
<line x1="581.12" y1="275.40" x2="581.12" y2="291.30" stroke="#6a3cae" stroke-width="0.9" />
<line x1="579.62" y1="275.40" x2="582.62" y2="275.40" stroke="#6a3cae" stroke-width="0.9" />
<line x1="579.62" y1="291.30" x2="582.62" y2="291.30" stroke="#6a3cae" stroke-width="0.9" />
<line x1="598.36" y1="267.80" x2="598.36" y2="281.30" stroke="#6a3cae" stroke-width="0.9" />
<line x1="596.86" y1="267.80" x2="599.86" y2="267.80" stroke="#6a3cae" stroke-width="0.9" />
<line x1="596.86" y1="281.30" x2="599.86" y2="281.30" stroke="#6a3cae" stroke-width="0.9" />
<line x1="607.42" y1="260.20" x2="607.42" y2="273.30" stroke="#6a3cae" stroke-width="0.9" />
<line x1="605.92" y1="260.20" x2="608.92" y2="260.20" stroke="#6a3cae" stroke-width="0.9" />
<line x1="605.92" y1="273.30" x2="608.92" y2="273.30" stroke="#6a3cae" stroke-width="0.9" />
<line x1="624.80" y1="254.30" x2="624.80" y2="260.20" stroke="#6a3cae" stroke-width="0.9" />
<line x1="623.30" y1="254.30" x2="626.30" y2="254.30" stroke="#6a3cae" stroke-width="0.9" />
<line x1="623.30" y1="260.20" x2="626.30" y2="260.20" stroke="#6a3cae" stroke-width="0.9" />
<polygon points="511.29,378.23 514.19,373.01 508.39,373.01" fill="#f0a040" stroke="#b0702a" stroke-width="0.4"/>
<polygon points="528.53,377.43 531.43,372.21 525.63,372.21" fill="#f0a040" stroke="#b0702a" stroke-width="0.4"/>
<polygon points="537.30,378.73 540.20,373.51 534.40,373.51" fill="#f0a040" stroke="#b0702a" stroke-width="0.4"/>
<polygon points="563.59,378.73 566.49,373.51 560.69,373.51" fill="#f0a040" stroke="#b0702a" stroke-width="0.4"/>
<polygon points="581.12,380.03 584.02,374.81 578.22,374.81" fill="#f0a040" stroke="#b0702a" stroke-width="0.4"/>
<polygon points="598.36,377.03 601.26,371.81 595.46,371.81" fill="#f0a040" stroke="#b0702a" stroke-width="0.4"/>
<polygon points="607.42,378.83 610.32,373.61 604.52,373.61" fill="#f0a040" stroke="#b0702a" stroke-width="0.4"/>
<polygon points="624.80,377.63 627.70,372.41 621.90,372.41" fill="#f0a040" stroke="#b0702a" stroke-width="0.4"/>
<polygon points="633.57,375.43 636.47,370.21 630.67,370.21" fill="#f0a040" stroke="#b0702a" stroke-width="0.4"/>
<polygon points="642.18,376.53 645.08,371.31 639.28,371.31" fill="#f0a040" stroke="#b0702a" stroke-width="0.4"/>
<polygon points="650.95,377.63 653.85,372.41 648.05,372.41" fill="#f0a040" stroke="#b0702a" stroke-width="0.4"/>
<polygon points="659.71,375.83 662.61,370.61 656.81,370.61" fill="#f0a040" stroke="#b0702a" stroke-width="0.4"/>
<circle cx="511.29" cy="374.80" r="3.0" fill="#8a1a1e" stroke="#5a1014" stroke-width="0.4"/>
<circle cx="528.53" cy="370.30" r="3.0" fill="#8a1a1e" stroke="#5a1014" stroke-width="0.4"/>
<circle cx="537.30" cy="364.50" r="3.0" fill="#8a1a1e" stroke="#5a1014" stroke-width="0.4"/>
<circle cx="563.59" cy="361.80" r="3.0" fill="#8a1a1e" stroke="#5a1014" stroke-width="0.4"/>
<circle cx="581.12" cy="362.20" r="3.0" fill="#8a1a1e" stroke="#5a1014" stroke-width="0.4"/>
<circle cx="598.36" cy="356.30" r="3.0" fill="#8a1a1e" stroke="#5a1014" stroke-width="0.4"/>
<circle cx="607.42" cy="351.10" r="3.0" fill="#8a1a1e" stroke="#5a1014" stroke-width="0.4"/>
<circle cx="624.80" cy="357.50" r="3.0" fill="#8a1a1e" stroke="#5a1014" stroke-width="0.4"/>
<circle cx="642.18" cy="348.90" r="3.0" fill="#8a1a1e" stroke="#5a1014" stroke-width="0.4"/>
<circle cx="650.95" cy="347.30" r="3.0" fill="#8a1a1e" stroke="#5a1014" stroke-width="0.4"/>
<circle cx="659.71" cy="347.70" r="3.0" fill="#8a1a1e" stroke="#5a1014" stroke-width="0.4"/>
<rect x="508.99" y="374.70" width="4.6" height="4.6" fill="#3b0e9e" stroke="#2a0a70" stroke-width="0.4"/>
<rect x="517.47" y="374.10" width="4.6" height="4.6" fill="#3b0e9e" stroke="#2a0a70" stroke-width="0.4"/>
<rect x="526.23" y="348.90" width="4.6" height="4.6" fill="#3b0e9e" stroke="#2a0a70" stroke-width="0.4"/>
<rect x="535.00" y="329.50" width="4.6" height="4.6" fill="#3b0e9e" stroke="#2a0a70" stroke-width="0.4"/>
<rect x="561.29" y="305.60" width="4.6" height="4.6" fill="#3b0e9e" stroke="#2a0a70" stroke-width="0.4"/>
<rect x="578.82" y="281.00" width="4.6" height="4.6" fill="#3b0e9e" stroke="#2a0a70" stroke-width="0.4"/>
<rect x="596.06" y="272.00" width="4.6" height="4.6" fill="#3b0e9e" stroke="#2a0a70" stroke-width="0.4"/>
<rect x="605.12" y="264.40" width="4.6" height="4.6" fill="#3b0e9e" stroke="#2a0a70" stroke-width="0.4"/>
<rect x="622.50" y="255.10" width="4.6" height="4.6" fill="#3b0e9e" stroke="#2a0a70" stroke-width="0.4"/>
<rect x="631.27" y="251.00" width="4.6" height="4.6" fill="#3b0e9e" stroke="#2a0a70" stroke-width="0.4"/>
<rect x="639.88" y="247.50" width="4.6" height="4.6" fill="#3b0e9e" stroke="#2a0a70" stroke-width="0.4"/>
<rect x="648.65" y="245.30" width="4.6" height="4.6" fill="#3b0e9e" stroke="#2a0a70" stroke-width="0.4"/>
<rect x="657.41" y="244.20" width="4.6" height="4.6" fill="#3b0e9e" stroke="#2a0a70" stroke-width="0.4"/>
<rect x="506.30" y="233.90" width="4.4" height="4.4" fill="#3b0e9e" stroke="none" stroke-width="0"/>
<circle cx="508.50" cy="244.80" r="2.9" fill="#8a1a1e" stroke="none" stroke-width="0"/>
<polygon points="508.50,256.84 511.50,251.44 505.50,251.44" fill="#f0a040" stroke="#b0702a" stroke-width="0.4"/>
<text x="513.9" y="238.8" font-size="7.5" fill="#231f20">MERS-CoV S1 (LOD = 5.7 × 10<tspan font-size="5.3" dy="-3.1">−19</tspan><tspan dy="3.1"> M)</tspan></text>
<text x="513.90" y="247.60" font-size="7.5" fill="#231f20" text-anchor="start" font-weight="normal" >SARS-CoV-2 S1</text>
<text x="513.90" y="256.30" font-size="7.5" fill="#231f20" text-anchor="start" font-weight="normal" >GFP</text>
</svg>
</body></html>
